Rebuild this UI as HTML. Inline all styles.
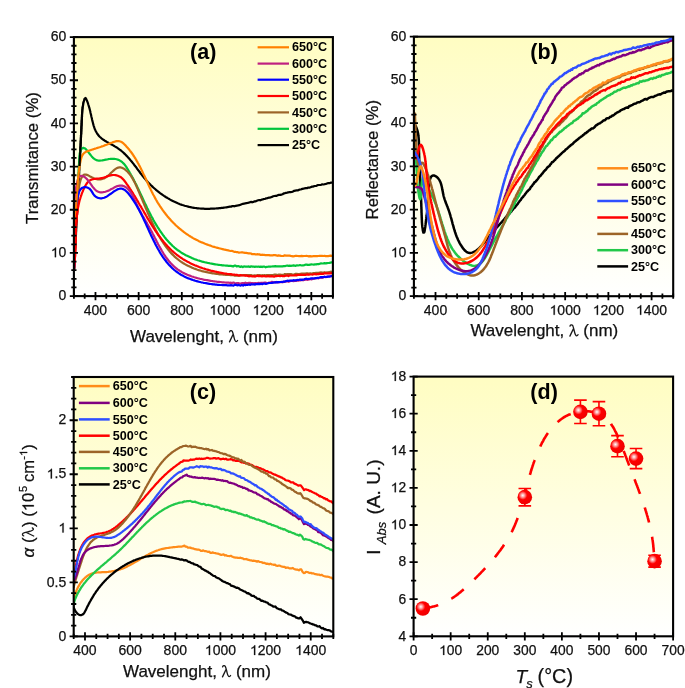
<!DOCTYPE html><html><head><meta charset="utf-8"><style>html,body{margin:0;padding:0;background:#fff;}svg{display:block;will-change:transform;}text{font-family:"Liberation Sans",sans-serif;fill:#111;stroke:#111;stroke-width:0.25px;}text[font-weight=bold]{stroke-width:0;fill:#000;}</style></head><body>
<svg width="685" height="688" viewBox="0 0 685 688">
<defs>
<linearGradient id="ga" x1="0" y1="0" x2="0" y2="1"><stop offset="0" stop-color="#FFFDC2"/><stop offset="1" stop-color="#FFFFFF"/></linearGradient>
<clipPath id="ca"><rect x="73.9" y="37.1" width="259.0" height="259.0"/></clipPath>
<linearGradient id="gb" x1="0" y1="0" x2="0" y2="1"><stop offset="0" stop-color="#FFFDC2"/><stop offset="1" stop-color="#FFFFFF"/></linearGradient>
<clipPath id="cb"><rect x="413.9" y="36.7" width="259.3" height="259.5"/></clipPath>
<linearGradient id="gc" x1="0" y1="0" x2="0" y2="1"><stop offset="0" stop-color="#FFFDC2"/><stop offset="1" stop-color="#FFFFFF"/></linearGradient>
<clipPath id="cc"><rect x="73.7" y="377.0" width="259.6" height="259.4"/></clipPath>
<linearGradient id="gd" x1="0" y1="0" x2="0" y2="1"><stop offset="0" stop-color="#FFFDC2"/><stop offset="1" stop-color="#FFFFFF"/></linearGradient>
<clipPath id="cd"><rect x="413.6" y="376.6" width="259.5" height="259.7"/></clipPath>
<radialGradient id="sph" cx="0.36" cy="0.38" r="0.6"><stop offset="0" stop-color="#FFFFFF"/><stop offset="0.22" stop-color="#FF9A9A"/><stop offset="0.5" stop-color="#FF0000"/><stop offset="1" stop-color="#F00000"/></radialGradient>
</defs>
<rect width="685" height="688" fill="#fff"/>
<rect x="73.9" y="37.1" width="259.0" height="259.0" fill="url(#ga)"/>
<path d="M74.1,269.0L74.2,267.8 74.3,266.6 74.3,265.4 74.4,264.2 74.4,263.0 74.5,261.8 74.6,260.6 74.6,259.4 74.7,258.2 74.8,257.0 74.8,255.8 74.9,254.6 75.0,253.4 75.0,252.2 75.1,251.0 75.1,249.8 75.2,248.6 75.3,247.4 75.3,246.2 75.4,245.0 75.5,243.8 75.5,242.6 75.6,241.4 75.7,240.2 75.7,239.0 75.8,237.8 75.8,236.6 75.9,235.4 76.0,234.2 76.0,233.0 76.1,231.8 76.2,230.6 76.2,229.4 76.3,228.2 76.4,227.0 76.4,225.8 76.5,224.6 76.5,223.4 76.6,222.2 76.7,221.0 76.7,219.8 76.8,218.6 76.9,217.4 76.9,216.2 77.0,215.0 77.1,213.8 77.1,212.6 77.2,211.4 77.2,210.2 77.3,209.0 77.4,207.8 77.4,206.6 77.5,205.4 77.6,204.2 77.6,203.0 77.7,201.8 77.7,200.6 77.8,199.4 77.9,198.2 77.9,196.9 78.0,195.7 78.1,194.5 78.1,193.3 78.2,192.1 78.2,190.9 78.3,189.7 78.4,188.5 78.4,187.3 78.5,186.1 78.6,184.9 78.6,183.7 78.7,182.5 78.7,181.3 78.8,180.1 78.9,178.9 78.9,177.7 79.0,176.5 79.1,175.3 79.1,174.1 79.2,172.9 79.2,171.7 79.3,170.5 79.4,169.3 79.4,168.1 79.5,166.9 79.5,165.7 79.6,164.5 79.7,163.3 79.7,162.1 79.8,160.9 79.8,159.7 79.9,158.5 80.0,157.3 80.0,156.1 80.1,154.9 80.1,153.7 80.2,152.5 80.3,151.3 80.3,150.1 80.4,148.9 80.4,147.7 80.5,146.5 80.6,145.3 80.6,144.1 80.7,142.9 80.7,141.7 80.8,140.5 80.9,139.3 80.9,138.1 81.0,136.9 81.0,135.7 81.1,134.5 81.2,133.3 81.2,132.1 81.3,130.9 81.3,129.7 81.4,128.5 81.4,127.2 81.5,126.0 81.6,124.8 81.6,123.6 81.7,122.4 81.7,121.2 81.8,120.0 81.9,118.8 81.9,117.6 82.0,116.4 82.0,115.2 82.1,114.0 82.2,112.8 82.3,111.6 82.4,110.4 82.5,109.2 82.7,108.0 82.8,106.8 83.0,105.7 83.2,104.5 83.4,103.3 83.7,102.1 84.0,100.9 84.3,99.8 84.7,98.7 85.5,98.0 86.2,99.0 86.7,100.1 87.2,101.2 87.6,102.3 88.0,103.4 88.3,104.6 88.7,105.7 89.0,106.9 89.4,108.0 89.7,109.2 90.0,110.4 90.3,111.5 90.5,112.7 90.8,113.9 91.1,115.1 91.3,116.2 91.6,117.4 91.9,118.6 92.1,119.8 92.4,120.9 92.7,122.1 93.0,123.3 93.3,124.4 93.6,125.6 94.0,126.7 94.4,127.9 94.8,129.0 95.3,130.1 95.8,131.2 96.4,132.2 97.0,133.3 97.7,134.3 98.4,135.2 99.2,136.2 100.0,137.0 100.9,137.8 101.8,138.6 102.8,139.3 103.8,140.0 104.8,140.7 105.8,141.3 106.8,141.9 107.9,142.5 108.9,143.1 110.0,143.7 111.0,144.2 112.1,144.8 113.2,145.4 114.2,146.0 115.2,146.6 116.3,147.2 117.3,147.9 118.3,148.6 119.3,149.3 120.2,150.0 121.2,150.7 122.1,151.5 123.0,152.3 123.9,153.1 124.7,153.9 125.6,154.8 126.4,155.6 127.3,156.5 128.1,157.4 128.9,158.3 129.7,159.2 130.4,160.1 131.2,161.1 132.0,162.0 132.7,162.9 133.5,163.9 134.2,164.8 134.9,165.8 135.7,166.7 136.4,167.7 137.1,168.7 137.8,169.6 138.5,170.6 139.3,171.5 140.0,172.5 140.7,173.5 141.5,174.4 142.2,175.4 143.0,176.3 143.7,177.2 144.5,178.2 145.3,179.1 146.0,180.0 146.8,180.9 147.6,181.8 148.5,182.7 149.3,183.5 150.1,184.4 151.0,185.3 151.9,186.1 152.7,186.9 153.6,187.7 154.5,188.5 155.4,189.3 156.3,190.1 157.3,190.9 158.2,191.6 159.2,192.4 160.1,193.1 161.1,193.8 162.1,194.5 163.0,195.2 164.0,195.9 165.0,196.5 166.1,197.2 167.1,197.8 168.1,198.4 169.2,199.0 170.2,199.6 171.3,200.2 172.3,200.7 173.4,201.3 174.5,201.8 175.6,202.3 176.7,202.8 177.8,203.3 178.9,203.7 180.0,204.2 181.2,204.6 182.3,205.0 183.4,205.3 184.6,205.7 185.7,206.0 186.9,206.3 188.1,206.6 189.2,206.9 190.4,207.1 191.6,207.4 192.8,207.6 194.0,207.8 195.2,208.0 196.4,208.1 197.6,208.3 198.7,208.4 199.9,208.5 201.1,208.6 202.3,208.7 203.5,208.7 204.8,208.8 206.0,208.8 207.2,208.8 208.4,208.8 209.6,208.8 210.8,208.7 212.0,208.7 213.2,208.6 214.4,208.6 215.6,208.5 216.8,208.4 218.0,208.3 219.2,208.2 220.4,208.1 221.6,207.9 222.8,207.8 224.0,207.6 225.1,207.5 226.3,207.3 227.5,207.1 228.7,206.9 229.9,206.7 231.1,206.7 232.3,206.1 233.5,206.0 234.6,206.3 235.8,205.8 237.0,205.7 238.2,205.3 239.4,205.2 240.5,204.7 241.7,204.2 242.9,203.8 244.1,203.7 245.2,203.3 246.4,203.1 247.6,202.9 248.7,202.6 249.9,202.2 251.1,201.9 252.2,202.3 253.4,201.9 254.6,201.3 255.8,201.3 256.9,200.7 258.1,200.3 259.3,200.0 260.4,200.3 261.6,199.6 262.7,199.4 263.9,199.0 265.1,198.9 266.2,198.3 267.4,198.1 268.6,197.7 269.7,197.7 270.9,197.3 272.1,196.9 273.2,196.3 274.4,196.0 275.5,195.8 276.7,195.8 277.9,195.1 279.0,194.9 280.2,194.9 281.4,194.6 282.5,194.3 283.7,193.3 284.8,193.3 286.0,192.8 287.2,192.6 288.3,192.3 289.5,192.2 290.7,192.1 291.8,192.0 293.0,191.5 294.2,190.8 295.3,190.6 296.5,190.4 297.7,190.4 298.8,189.9 300.0,189.5 301.2,189.3 302.3,188.9 303.5,188.7 304.7,188.3 305.8,188.1 307.0,188.2 308.2,187.6 309.4,187.7 310.5,187.3 311.7,186.7 312.9,186.6 314.0,186.2 315.2,186.0 316.4,185.8 317.6,185.2 318.8,185.0 319.9,185.0 321.1,184.8 322.3,184.3 323.5,184.5 324.7,184.2 325.8,184.0 327.0,183.5 328.2,183.1 329.4,183.2 330.6,182.7 331.8,182.7 332.9,182.6" stroke="#000000" stroke-width="2.2" fill="none" stroke-linejoin="round" stroke-linecap="round" clip-path="url(#ca)"/>
<path d="M74.1,269.0L74.1,267.8 74.1,266.6 74.2,265.4 74.2,264.2 74.2,262.9 74.2,261.7 74.2,260.5 74.3,259.3 74.3,258.1 74.3,256.9 74.3,255.7 74.4,254.5 74.4,253.3 74.4,252.1 74.5,250.9 74.5,249.7 74.5,248.5 74.5,247.3 74.6,246.1 74.6,244.9 74.7,243.7 74.7,242.5 74.7,241.3 74.8,240.1 74.8,238.9 74.8,237.7 74.9,236.5 74.9,235.3 75.0,234.0 75.0,232.8 75.1,231.6 75.1,230.4 75.2,229.2 75.2,228.0 75.3,226.8 75.3,225.6 75.4,224.4 75.4,223.2 75.5,222.0 75.5,220.8 75.6,219.6 75.6,218.4 75.7,217.2 75.7,216.0 75.8,214.8 75.9,213.6 75.9,212.4 76.0,211.2 76.1,210.0 76.1,208.8 76.2,207.6 76.2,206.4 76.3,205.2 76.4,204.0 76.5,202.8 76.5,201.6 76.6,200.4 76.7,199.2 76.7,198.0 76.8,196.8 76.9,195.6 77.0,194.4 77.1,193.1 77.1,191.9 77.2,190.7 77.3,189.5 77.4,188.3 77.5,187.1 77.5,185.9 77.6,184.7 77.7,183.5 77.8,182.3 77.9,181.1 78.0,179.9 78.1,178.7 78.1,177.5 78.2,176.3 78.3,175.1 78.4,173.9 78.5,172.7 78.6,171.5 78.6,170.3 78.7,169.1 78.8,167.9 78.9,166.7 78.9,165.5 79.0,164.3 79.1,163.1 79.1,161.9 79.2,160.7 79.3,159.5 79.3,158.3 79.4,157.1 79.5,155.9 79.6,154.7 79.7,153.5 80.0,152.3 80.3,151.1 80.7,150.0 81.4,149.0 82.3,148.3 83.4,147.9 84.6,148.2 85.5,148.9 86.4,149.8 87.2,150.7 88.0,151.6 88.7,152.6 89.4,153.5 90.2,154.5 90.9,155.4 91.7,156.4 92.5,157.3 93.3,158.1 94.3,158.9 95.3,159.5 96.4,160.1 97.5,160.4 98.7,160.6 99.9,160.6 101.1,160.5 102.3,160.4 103.5,160.2 104.7,159.9 105.9,159.7 107.0,159.5 108.2,159.2 109.4,159.0 110.6,158.9 111.8,158.8 113.0,158.8 114.2,158.8 115.4,159.0 116.6,159.3 117.7,159.6 118.8,160.1 119.9,160.6 120.9,161.2 121.9,161.9 122.8,162.7 123.7,163.6 124.5,164.5 125.2,165.4 125.9,166.4 126.6,167.4 127.2,168.4 127.9,169.5 128.5,170.5 129.1,171.5 129.7,172.6 130.3,173.6 130.9,174.7 131.5,175.7 132.1,176.8 132.7,177.8 133.2,178.9 133.8,180.0 134.3,181.0 134.9,182.1 135.4,183.2 136.0,184.2 136.5,185.3 137.0,186.4 137.5,187.5 138.1,188.6 138.6,189.7 139.1,190.8 139.6,191.8 140.1,192.9 140.6,194.0 141.1,195.1 141.7,196.2 142.2,197.3 142.7,198.4 143.2,199.5 143.7,200.6 144.2,201.7 144.7,202.8 145.2,203.8 145.8,204.9 146.3,206.0 146.8,207.1 147.3,208.2 147.9,209.3 148.4,210.4 148.9,211.4 149.5,212.5 150.0,213.6 150.6,214.6 151.1,215.7 151.7,216.8 152.3,217.8 152.8,218.9 153.4,220.0 154.0,221.0 154.6,222.1 155.2,223.1 155.8,224.1 156.4,225.2 157.1,226.2 157.7,227.2 158.3,228.2 159.0,229.2 159.7,230.3 160.3,231.3 161.0,232.2 161.7,233.2 162.4,234.2 163.1,235.2 163.9,236.1 164.6,237.1 165.3,238.0 166.1,239.0 166.9,239.9 167.7,240.8 168.5,241.7 169.3,242.6 170.1,243.4 171.0,244.3 171.8,245.1 172.7,246.0 173.6,246.8 174.5,247.6 175.4,248.3 176.4,249.1 177.3,249.8 178.3,250.5 179.3,251.2 180.3,251.9 181.3,252.6 182.3,253.2 183.3,253.8 184.4,254.4 185.4,255.0 186.5,255.6 187.6,256.1 188.7,256.6 189.8,257.1 190.9,257.6 192.0,258.1 193.1,258.5 194.2,259.0 195.3,259.4 196.5,259.8 197.6,260.2 198.8,260.5 199.9,260.9 201.1,261.2 202.2,261.6 203.4,261.9 204.6,262.2 205.7,262.5 206.9,262.7 208.1,263.0 209.3,263.2 210.5,263.5 211.6,263.7 212.8,263.9 214.0,264.1 215.2,264.3 216.4,264.5 217.6,264.7 218.8,264.8 220.0,265.0 221.2,265.1 222.4,265.3 223.6,265.4 224.8,265.5 226.0,265.6 227.2,265.7 228.4,265.8 229.6,265.9 230.8,265.9 232.0,266.1 233.2,266.5 234.4,265.7 235.6,265.7 236.8,266.5 238.0,266.0 239.2,266.4 240.4,266.9 241.6,266.3 242.8,267.1 244.0,266.3 245.2,266.7 246.4,266.6 247.6,266.7 248.8,266.4 250.0,266.9 251.2,266.3 252.4,266.7 253.6,266.5 254.8,266.9 256.0,266.5 257.2,266.8 258.4,266.5 259.7,266.9 260.9,266.6 262.1,267.1 263.3,266.6 264.5,266.6 265.7,267.3 266.9,266.8 268.1,266.7 269.3,266.5 270.5,266.6 271.7,266.5 272.9,266.4 274.1,266.4 275.3,266.2 276.5,266.4 277.7,266.3 278.9,266.4 280.1,266.3 281.3,266.4 282.5,266.4 283.7,266.1 284.9,266.2 286.1,265.8 287.3,265.5 288.5,265.9 289.8,265.7 291.0,265.8 292.2,265.7 293.4,265.4 294.6,265.6 295.8,265.8 297.0,265.3 298.2,265.5 299.4,265.2 300.6,265.2 301.8,265.5 303.0,265.3 304.2,265.1 305.4,264.7 306.6,264.6 307.8,264.9 309.0,264.8 310.2,264.6 311.4,264.4 312.6,264.5 313.8,264.6 315.0,264.4 316.2,264.4 317.4,264.0 318.6,264.1 319.8,263.7 321.0,263.4 322.2,263.5 323.4,263.4 324.6,263.2 325.8,263.4 327.0,263.1 328.2,263.0 329.4,262.9 330.6,262.6 331.8,262.3 333.0,262.7" stroke="#00C43A" stroke-width="2.2" fill="none" stroke-linejoin="round" stroke-linecap="round" clip-path="url(#ca)"/>
<path d="M74.1,269.1L74.2,267.9 74.2,266.6 74.3,265.4 74.3,264.2 74.4,263.0 74.4,261.8 74.5,260.6 74.5,259.4 74.6,258.2 74.6,257.0 74.6,255.8 74.7,254.6 74.7,253.4 74.8,252.2 74.8,251.0 74.8,249.8 74.9,248.6 74.9,247.4 75.0,246.2 75.0,245.0 75.0,243.8 75.1,242.6 75.1,241.4 75.1,240.2 75.2,238.9 75.2,237.7 75.3,236.5 75.3,235.3 75.4,234.1 75.4,232.9 75.4,231.7 75.5,230.5 75.5,229.3 75.6,228.1 75.6,226.9 75.7,225.7 75.7,224.5 75.8,223.3 75.9,222.1 75.9,220.9 76.0,219.7 76.1,218.5 76.1,217.3 76.2,216.1 76.3,214.9 76.3,213.7 76.4,212.5 76.5,211.3 76.6,210.1 76.7,208.9 76.8,207.7 76.9,206.5 77.0,205.3 77.1,204.1 77.2,202.9 77.3,201.7 77.4,200.5 77.6,199.3 77.7,198.1 77.8,196.9 78.0,195.7 78.1,194.5 78.2,193.3 78.4,192.1 78.5,190.9 78.7,189.7 78.8,188.5 79.0,187.3 79.2,186.1 79.4,184.9 79.6,183.7 79.9,182.6 80.2,181.4 80.5,180.2 80.9,179.1 81.4,178.0 82.0,176.9 82.6,175.9 83.5,175.1 84.5,174.6 85.7,174.5 86.9,174.9 88.0,175.3 89.1,175.9 90.1,176.5 91.2,177.0 92.3,177.6 93.3,178.1 94.5,178.6 95.6,178.9 96.8,179.2 98.0,179.4 99.2,179.4 100.4,179.3 101.6,179.2 102.7,178.8 103.9,178.4 104.9,177.9 106.0,177.2 106.9,176.5 107.9,175.8 108.8,175.0 109.7,174.2 110.6,173.3 111.4,172.5 112.3,171.7 113.2,170.9 114.1,170.1 115.0,169.3 116.0,168.6 117.1,168.0 118.2,167.6 119.4,167.4 120.6,167.4 121.7,167.7 122.8,168.1 123.9,168.7 124.9,169.4 125.8,170.2 126.7,171.0 127.6,171.8 128.4,172.7 129.2,173.6 129.9,174.6 130.7,175.5 131.3,176.5 132.0,177.5 132.6,178.6 133.2,179.6 133.8,180.7 134.3,181.8 134.9,182.8 135.4,183.9 135.9,185.0 136.4,186.1 136.9,187.2 137.4,188.3 137.9,189.4 138.3,190.5 138.8,191.6 139.3,192.7 139.7,193.9 140.2,195.0 140.7,196.1 141.2,197.2 141.6,198.3 142.1,199.4 142.6,200.5 143.0,201.6 143.5,202.7 144.0,203.8 144.4,205.0 144.9,206.1 145.4,207.2 145.8,208.3 146.3,209.4 146.8,210.5 147.3,211.6 147.7,212.7 148.2,213.8 148.7,214.9 149.2,216.0 149.7,217.1 150.2,218.2 150.7,219.3 151.2,220.4 151.7,221.5 152.2,222.6 152.7,223.7 153.2,224.8 153.7,225.9 154.3,227.0 154.8,228.0 155.4,229.1 155.9,230.2 156.5,231.2 157.0,232.3 157.6,233.4 158.2,234.4 158.8,235.5 159.4,236.5 160.0,237.6 160.6,238.6 161.2,239.6 161.8,240.7 162.5,241.7 163.2,242.7 163.8,243.7 164.5,244.7 165.2,245.7 165.9,246.6 166.6,247.6 167.4,248.6 168.1,249.5 168.9,250.4 169.6,251.4 170.4,252.3 171.2,253.2 172.1,254.1 172.9,254.9 173.8,255.8 174.6,256.6 175.5,257.4 176.4,258.2 177.4,259.0 178.3,259.7 179.3,260.5 180.2,261.2 181.2,261.9 182.2,262.5 183.2,263.2 184.3,263.8 185.3,264.4 186.4,265.0 187.4,265.5 188.5,266.1 189.6,266.6 190.7,267.1 191.8,267.6 192.9,268.0 194.0,268.5 195.2,268.9 196.3,269.3 197.4,269.7 198.6,270.1 199.7,270.4 200.9,270.7 202.1,271.1 203.2,271.4 204.4,271.7 205.6,271.9 206.7,272.2 207.9,272.4 209.1,272.7 210.3,272.9 211.5,273.1 212.7,273.3 213.9,273.5 215.1,273.7 216.2,273.8 217.4,274.0 218.6,274.1 219.8,274.3 221.0,274.4 222.2,274.5 223.4,274.6 224.6,274.7 225.8,274.8 227.0,274.9 228.2,275.0 229.4,275.0 230.6,275.2 231.9,274.9 233.1,275.1 234.3,275.6 235.5,275.4 236.7,275.6 237.9,275.4 239.1,275.6 240.3,275.4 241.5,275.2 242.7,275.0 243.9,275.2 245.1,275.1 246.3,275.1 247.5,275.2 248.7,275.2 249.9,275.1 251.1,275.1 252.3,275.7 253.5,275.6 254.7,275.3 255.9,275.6 257.2,275.2 258.4,275.1 259.6,275.0 260.8,275.7 262.0,275.2 263.2,275.3 264.4,275.2 265.6,275.3 266.8,275.1 268.0,275.1 269.2,275.0 270.4,275.2 271.6,275.1 272.8,275.0 274.0,274.7 275.2,274.6 276.4,274.7 277.6,275.0 278.8,274.6 280.0,274.6 281.2,274.9 282.4,274.9 283.7,274.8 284.9,274.0 286.1,274.4 287.3,274.1 288.5,274.1 289.7,274.1 290.9,274.2 292.1,274.4 293.3,274.5 294.5,274.3 295.7,273.8 296.9,273.9 298.1,274.0 299.3,274.1 300.5,273.8 301.7,273.7 302.9,273.7 304.1,273.6 305.3,273.5 306.5,273.3 307.7,273.4 308.9,273.7 310.1,273.3 311.3,273.6 312.5,273.4 313.7,273.0 314.9,273.1 316.1,272.9 317.3,272.9 318.6,272.8 319.8,272.5 321.0,272.4 322.2,272.5 323.4,272.5 324.6,272.2 325.8,272.5 327.0,272.4 328.2,272.4 329.4,272.0 330.6,271.7 331.8,271.9 333.0,271.6" stroke="#9C6428" stroke-width="2.2" fill="none" stroke-linejoin="round" stroke-linecap="round" clip-path="url(#ca)"/>
<path d="M73.9,268.9L74.1,267.7 74.2,266.5 74.3,265.3 74.5,264.1 74.6,262.9 74.7,261.7 74.8,260.5 74.8,259.3 74.9,258.1 75.0,256.9 75.1,255.7 75.1,254.5 75.2,253.3 75.2,252.1 75.2,250.9 75.3,249.7 75.3,248.5 75.4,247.3 75.4,246.1 75.4,244.9 75.4,243.7 75.5,242.5 75.5,241.3 75.5,240.1 75.6,238.9 75.6,237.6 75.6,236.4 75.7,235.2 75.7,234.0 75.7,232.8 75.8,231.6 75.8,230.4 75.9,229.2 75.9,228.0 76.0,226.8 76.0,225.6 76.1,224.4 76.2,223.2 76.3,222.0 76.4,220.8 76.5,219.6 76.6,218.4 76.7,217.2 76.8,216.0 77.0,214.8 77.1,213.6 77.3,212.4 77.4,211.2 77.6,210.0 77.8,208.9 78.0,207.7 78.3,206.5 78.5,205.3 78.8,204.1 79.0,203.0 79.3,201.8 79.6,200.6 79.9,199.5 80.3,198.3 80.6,197.2 81.0,196.0 81.4,194.9 81.8,193.7 82.2,192.6 82.7,191.5 83.1,190.4 83.6,189.3 84.1,188.2 84.7,187.1 85.2,186.0 85.8,185.0 86.4,184.0 87.1,183.0 87.9,182.1 88.8,181.2 89.7,180.5 90.8,179.9 91.9,179.5 93.1,179.2 94.3,179.0 95.4,178.8 96.6,178.7 97.8,178.6 99.0,178.5 100.2,178.3 101.4,178.1 102.6,177.9 103.8,177.6 104.9,177.2 106.1,176.8 107.2,176.4 108.3,176.0 109.5,175.7 110.7,175.4 111.8,175.2 113.0,175.0 114.2,175.0 115.4,175.1 116.6,175.4 117.8,175.7 118.9,176.2 120.0,176.7 121.0,177.3 121.9,178.1 122.8,178.9 123.6,179.8 124.4,180.8 125.1,181.7 125.8,182.7 126.5,183.7 127.2,184.6 127.9,185.6 128.6,186.6 129.3,187.6 129.9,188.6 130.6,189.6 131.2,190.6 131.9,191.6 132.5,192.7 133.2,193.7 133.8,194.7 134.4,195.7 135.1,196.8 135.7,197.8 136.3,198.8 136.9,199.9 137.5,200.9 138.1,201.9 138.7,203.0 139.3,204.0 139.9,205.1 140.6,206.1 141.2,207.1 141.8,208.2 142.4,209.2 143.0,210.3 143.6,211.3 144.2,212.4 144.8,213.4 145.4,214.4 146.0,215.5 146.6,216.5 147.2,217.6 147.8,218.6 148.4,219.6 149.1,220.7 149.7,221.7 150.3,222.7 150.9,223.7 151.6,224.8 152.2,225.8 152.9,226.8 153.5,227.8 154.2,228.8 154.8,229.8 155.5,230.8 156.2,231.8 156.9,232.8 157.5,233.8 158.2,234.8 158.9,235.8 159.7,236.7 160.4,237.7 161.1,238.7 161.9,239.6 162.6,240.5 163.4,241.5 164.1,242.4 164.9,243.3 165.7,244.2 166.5,245.1 167.3,246.0 168.1,246.9 169.0,247.8 169.8,248.6 170.7,249.5 171.5,250.3 172.4,251.1 173.3,251.9 174.2,252.7 175.2,253.5 176.1,254.2 177.0,255.0 178.0,255.7 179.0,256.4 180.0,257.1 181.0,257.8 182.0,258.4 183.0,259.1 184.0,259.7 185.0,260.3 186.1,260.9 187.1,261.5 188.2,262.1 189.3,262.6 190.4,263.2 191.4,263.7 192.5,264.2 193.6,264.7 194.7,265.2 195.8,265.6 197.0,266.1 198.1,266.5 199.2,267.0 200.3,267.4 201.5,267.8 202.6,268.2 203.8,268.5 204.9,268.9 206.1,269.3 207.2,269.6 208.4,269.9 209.5,270.2 210.7,270.6 211.9,270.8 213.0,271.1 214.2,271.4 215.4,271.7 216.6,271.9 217.7,272.2 218.9,272.4 220.1,272.7 221.3,272.9 222.5,273.1 223.7,273.3 224.8,273.5 226.0,273.7 227.2,273.9 228.4,274.0 229.6,274.2 230.8,274.0 232.0,274.6 233.2,274.6 234.4,274.5 235.6,275.0 236.8,274.7 238.0,275.2 239.2,275.6 240.4,275.1 241.6,275.5 242.8,275.5 244.0,275.3 245.2,275.8 246.4,275.4 247.6,275.9 248.8,276.3 250.0,276.2 251.2,276.2 252.4,276.5 253.6,276.1 254.8,276.6 256.0,276.3 257.2,275.7 258.4,276.2 259.6,276.1 260.8,276.2 262.0,276.4 263.2,276.2 264.4,276.2 265.6,276.4 266.8,276.5 268.0,275.9 269.2,276.4 270.5,276.5 271.7,276.1 272.9,276.5 274.1,276.6 275.3,276.2 276.5,276.2 277.7,276.0 278.9,276.0 280.1,276.2 281.3,275.8 282.5,276.1 283.7,276.1 284.9,276.1 286.1,275.6 287.3,275.5 288.5,276.1 289.7,275.3 290.9,275.5 292.1,275.5 293.3,275.5 294.5,275.4 295.7,275.1 296.9,275.3 298.1,274.9 299.3,275.0 300.5,274.7 301.7,274.8 302.9,274.8 304.1,274.8 305.3,274.8 306.5,274.7 307.7,274.4 308.9,274.8 310.1,274.5 311.3,274.5 312.5,274.6 313.7,274.3 314.9,274.0 316.1,274.4 317.3,274.2 318.6,274.2 319.8,273.6 321.0,273.9 322.2,273.9 323.4,273.8 324.6,273.2 325.8,273.3 327.0,273.3 328.2,273.4 329.4,273.4 330.6,273.3 331.8,273.0 333.0,273.3" stroke="#FF0000" stroke-width="2.2" fill="none" stroke-linejoin="round" stroke-linecap="round" clip-path="url(#ca)"/>
<path d="M74.0,269.0L74.1,267.8 74.2,266.6 74.4,265.4 74.4,264.2 74.5,263.0 74.6,261.8 74.7,260.6 74.7,259.4 74.8,258.2 74.8,257.0 74.8,255.8 74.9,254.6 74.9,253.4 74.9,252.2 74.9,251.0 74.9,249.8 74.9,248.5 74.9,247.3 74.9,246.1 74.8,244.9 74.8,243.7 74.8,242.5 74.7,241.3 74.7,240.1 74.7,238.9 74.6,237.7 74.6,236.5 74.6,235.3 74.5,234.1 74.5,232.9 74.4,231.7 74.4,230.5 74.3,229.3 74.3,228.1 74.3,226.9 74.2,225.7 74.2,224.5 74.2,223.3 74.1,222.1 74.1,220.9 74.1,219.7 74.1,218.5 74.0,217.3 74.0,216.1 74.0,214.9 74.0,213.7 74.0,212.5 74.0,211.2 74.1,210.0 74.1,208.8 74.1,207.6 74.2,206.4 74.2,205.2 74.3,204.0 74.3,202.8 74.4,201.6 74.5,200.4 74.6,199.2 74.7,198.0 74.8,196.8 74.9,195.6 75.0,194.4 75.2,193.2 75.4,192.0 75.5,190.9 75.7,189.7 75.9,188.5 76.1,187.3 76.3,186.1 76.6,184.9 76.8,183.8 77.1,182.6 77.4,181.4 77.7,180.2 78.0,179.1 78.5,178.0 79.1,177.0 80.0,176.2 81.1,175.8 82.3,176.0 83.5,176.4 84.5,177.0 85.5,177.7 86.3,178.5 87.2,179.4 87.9,180.3 88.7,181.3 89.4,182.2 90.1,183.2 90.8,184.2 91.5,185.2 92.2,186.2 92.9,187.1 93.7,188.1 94.5,189.0 95.3,189.8 96.2,190.6 97.2,191.2 98.3,191.7 99.5,192.1 100.7,192.3 101.9,192.3 103.1,192.2 104.3,192.0 105.4,191.7 106.6,191.3 107.7,190.9 108.8,190.4 109.9,189.9 110.9,189.3 112.0,188.8 113.1,188.2 114.1,187.6 115.2,187.1 116.3,186.6 117.4,186.1 118.6,185.8 119.7,185.6 120.9,185.5 122.1,185.6 123.3,186.0 124.4,186.4 125.4,187.0 126.4,187.7 127.4,188.5 128.2,189.3 129.0,190.2 129.8,191.1 130.5,192.1 131.2,193.1 131.8,194.1 132.4,195.2 132.9,196.3 133.5,197.3 134.0,198.4 134.5,199.5 135.0,200.6 135.5,201.7 136.0,202.8 136.5,203.9 137.0,205.0 137.5,206.1 138.0,207.2 138.6,208.2 139.1,209.3 139.6,210.4 140.2,211.4 140.8,212.5 141.4,213.6 142.0,214.6 142.5,215.7 143.1,216.7 143.8,217.7 144.4,218.8 145.0,219.8 145.6,220.9 146.2,221.9 146.8,222.9 147.4,224.0 148.0,225.0 148.6,226.1 149.2,227.1 149.8,228.2 150.4,229.2 150.9,230.3 151.5,231.3 152.1,232.4 152.6,233.5 153.2,234.5 153.7,235.6 154.3,236.7 154.8,237.8 155.4,238.8 155.9,239.9 156.5,241.0 157.0,242.0 157.6,243.1 158.1,244.2 158.7,245.2 159.3,246.3 159.9,247.3 160.5,248.4 161.1,249.4 161.7,250.5 162.3,251.5 162.9,252.5 163.5,253.5 164.2,254.6 164.9,255.6 165.5,256.6 166.2,257.5 166.9,258.5 167.7,259.5 168.4,260.4 169.2,261.4 170.0,262.3 170.8,263.2 171.6,264.0 172.4,264.9 173.3,265.7 174.2,266.6 175.1,267.4 176.0,268.1 177.0,268.9 177.9,269.6 178.9,270.2 179.9,270.9 181.0,271.5 182.0,272.1 183.1,272.7 184.1,273.2 185.2,273.8 186.3,274.3 187.4,274.8 188.5,275.2 189.6,275.6 190.8,276.1 191.9,276.5 193.1,276.8 194.2,277.2 195.4,277.5 196.5,277.9 197.7,278.2 198.8,278.5 200.0,278.8 201.2,279.0 202.4,279.3 203.5,279.6 204.7,279.8 205.9,280.0 207.1,280.2 208.3,280.4 209.5,280.6 210.6,280.8 211.8,281.0 213.0,281.2 214.2,281.3 215.4,281.5 216.6,281.7 217.8,281.8 219.0,281.9 220.2,282.0 221.4,282.2 222.6,282.3 223.8,282.4 225.0,282.5 226.2,282.6 227.4,282.6 228.6,282.7 229.8,282.8 231.0,282.7 232.2,283.0 233.4,282.5 234.6,283.1 235.8,283.4 237.0,283.2 238.2,283.0 239.4,283.6 240.6,283.5 241.8,283.2 243.0,283.0 244.2,283.6 245.4,282.6 246.6,283.3 247.8,283.1 249.0,282.9 250.3,282.9 251.5,283.2 252.7,283.1 253.9,283.4 255.1,283.0 256.3,283.4 257.5,283.0 258.7,282.8 259.9,283.0 261.1,282.8 262.3,282.9 263.5,282.8 264.7,282.6 265.9,282.7 267.1,283.1 268.3,282.9 269.5,282.5 270.7,282.2 271.9,281.8 273.1,282.4 274.3,282.2 275.5,282.4 276.7,281.9 277.9,282.5 279.1,282.1 280.3,282.1 281.5,281.9 282.7,282.3 283.9,281.7 285.1,281.8 286.3,281.5 287.5,281.4 288.7,281.8 289.9,281.3 291.1,280.8 292.3,281.0 293.5,281.2 294.7,281.0 295.9,280.8 297.1,280.6 298.3,280.7 299.5,280.1 300.7,280.3 301.9,279.9 303.1,280.3 304.3,279.8 305.5,279.6 306.7,279.6 307.9,279.8 309.1,279.5 310.3,279.0 311.5,279.4 312.7,278.8 313.9,278.6 315.0,278.6 316.2,278.0 317.4,278.1 318.6,278.3 319.8,277.6 321.0,277.7 322.2,277.8 323.4,277.2 324.6,276.7 325.8,277.2 327.0,276.8 328.1,276.5 329.3,276.5 330.5,276.4 331.7,275.8 332.9,275.7" stroke="#BF2080" stroke-width="2.2" fill="none" stroke-linejoin="round" stroke-linecap="round" clip-path="url(#ca)"/>
<path d="M74.1,269.0L74.2,267.8 74.2,266.6 74.3,265.4 74.4,264.2 74.4,263.0 74.5,261.8 74.5,260.6 74.6,259.4 74.6,258.2 74.6,257.0 74.6,255.8 74.7,254.6 74.7,253.4 74.7,252.2 74.7,251.0 74.7,249.8 74.7,248.6 74.7,247.4 74.7,246.2 74.7,245.0 74.7,243.8 74.7,242.6 74.7,241.4 74.7,240.2 74.7,239.0 74.7,237.7 74.7,236.5 74.7,235.3 74.7,234.1 74.7,232.9 74.7,231.7 74.7,230.5 74.8,229.3 74.8,228.1 74.8,226.9 74.8,225.7 74.9,224.5 74.9,223.3 75.0,222.1 75.0,220.9 75.1,219.7 75.1,218.5 75.2,217.3 75.3,216.1 75.4,214.9 75.5,213.7 75.6,212.5 75.7,211.3 75.8,210.1 75.9,208.9 76.1,207.7 76.2,206.5 76.4,205.3 76.5,204.1 76.7,202.9 76.9,201.7 77.1,200.6 77.3,199.4 77.5,198.2 77.7,197.0 78.0,195.8 78.2,194.7 78.6,193.5 79.0,192.4 79.4,191.2 80.0,190.2 80.7,189.2 81.5,188.3 82.5,187.7 83.7,187.3 84.9,187.1 86.1,187.2 87.2,187.5 88.3,188.0 89.4,188.6 90.2,189.4 91.0,190.3 91.7,191.4 92.3,192.4 92.9,193.4 93.5,194.4 94.3,195.4 95.1,196.2 96.1,197.0 97.2,197.5 98.3,198.0 99.5,198.2 100.7,198.3 101.9,198.3 103.0,198.0 104.2,197.7 105.3,197.2 106.4,196.7 107.4,196.1 108.4,195.4 109.4,194.7 110.4,194.0 111.4,193.3 112.4,192.6 113.3,191.9 114.3,191.2 115.3,190.6 116.4,190.0 117.4,189.4 118.5,189.0 119.7,188.7 120.9,188.6 122.1,188.7 123.2,189.1 124.3,189.7 125.3,190.4 126.2,191.2 127.0,192.0 127.9,192.9 128.6,193.8 129.4,194.8 130.1,195.7 130.8,196.7 131.5,197.7 132.2,198.7 132.8,199.7 133.5,200.7 134.2,201.7 134.8,202.7 135.5,203.7 136.1,204.8 136.7,205.8 137.3,206.8 137.9,207.9 138.5,208.9 139.1,210.0 139.6,211.0 140.2,212.1 140.8,213.2 141.3,214.2 141.8,215.3 142.4,216.4 142.9,217.5 143.4,218.6 143.9,219.7 144.4,220.7 144.9,221.8 145.4,222.9 146.0,224.0 146.4,225.1 146.9,226.2 147.4,227.3 147.9,228.4 148.4,229.5 148.9,230.6 149.4,231.7 149.9,232.8 150.4,233.9 150.9,235.0 151.4,236.1 152.0,237.2 152.5,238.2 153.0,239.3 153.5,240.4 154.1,241.5 154.6,242.6 155.1,243.6 155.7,244.7 156.2,245.8 156.8,246.8 157.4,247.9 158.0,249.0 158.6,250.0 159.2,251.0 159.8,252.1 160.4,253.1 161.0,254.1 161.7,255.1 162.3,256.2 163.0,257.2 163.7,258.1 164.4,259.1 165.1,260.1 165.9,261.0 166.6,262.0 167.4,262.9 168.1,263.8 168.9,264.7 169.8,265.6 170.6,266.5 171.4,267.3 172.3,268.2 173.2,269.0 174.1,269.8 175.0,270.5 176.0,271.3 176.9,272.0 177.9,272.7 178.9,273.4 179.9,274.0 181.0,274.7 182.0,275.3 183.1,275.8 184.1,276.4 185.2,276.9 186.3,277.4 187.4,277.9 188.5,278.4 189.6,278.8 190.8,279.2 191.9,279.6 193.0,280.0 194.2,280.4 195.3,280.8 196.5,281.1 197.6,281.4 198.8,281.7 200.0,282.0 201.2,282.3 202.3,282.5 203.5,282.8 204.7,283.0 205.9,283.2 207.1,283.4 208.2,283.6 209.4,283.8 210.6,284.0 211.8,284.1 213.0,284.3 214.2,284.4 215.4,284.6 216.6,284.7 217.8,284.8 219.0,284.9 220.2,285.0 221.4,285.0 222.6,285.1 223.8,285.2 225.0,285.2 226.2,285.2 227.4,285.3 228.6,285.3 229.8,285.3 231.0,285.2 232.2,285.3 233.4,285.7 234.6,284.8 235.8,284.7 237.1,285.4 238.3,284.9 239.5,285.2 240.7,285.6 241.9,284.9 243.1,285.6 244.3,284.7 245.5,285.1 246.7,284.8 247.9,284.8 249.1,284.5 250.3,284.9 251.5,284.2 252.7,284.5 253.9,284.2 255.1,284.6 256.3,284.0 257.5,284.2 258.7,283.9 259.9,284.1 261.1,283.7 262.3,284.2 263.5,283.6 264.7,283.5 265.9,284.0 267.1,283.5 268.3,283.2 269.5,283.0 270.7,283.0 271.9,282.8 273.1,282.6 274.3,282.5 275.5,282.2 276.7,282.4 277.9,282.1 279.1,282.1 280.3,282.0 281.4,282.0 282.6,281.9 283.8,281.5 285.0,281.6 286.2,281.1 287.4,280.7 288.6,280.9 289.8,280.7 291.0,280.7 292.2,280.6 293.4,280.2 294.6,280.3 295.8,280.4 297.0,279.9 298.2,280.0 299.4,279.7 300.6,279.6 301.8,279.9 303.0,279.5 304.2,279.3 305.4,278.9 306.6,278.7 307.8,279.0 309.0,278.8 310.2,278.6 311.4,278.3 312.5,278.4 313.7,278.5 314.9,278.2 316.1,278.2 317.3,277.8 318.5,277.8 319.7,277.5 320.9,277.1 322.1,277.2 323.3,277.1 324.5,276.9 325.7,277.0 326.9,276.8 328.1,276.6 329.3,276.6 330.5,276.3 331.7,276.0 332.9,276.5" stroke="#0000FF" stroke-width="2.2" fill="none" stroke-linejoin="round" stroke-linecap="round" clip-path="url(#ca)"/>
<path d="M74.1,269.0L74.1,267.8 74.1,266.6 74.1,265.4 74.1,264.2 74.1,263.0 74.1,261.8 74.1,260.6 74.1,259.4 74.1,258.1 74.1,256.9 74.2,255.7 74.2,254.5 74.2,253.3 74.2,252.1 74.2,250.9 74.3,249.7 74.3,248.5 74.3,247.3 74.3,246.1 74.4,244.9 74.4,243.7 74.4,242.5 74.5,241.3 74.5,240.1 74.6,238.8 74.6,237.6 74.6,236.4 74.7,235.2 74.7,234.0 74.8,232.8 74.8,231.6 74.9,230.4 74.9,229.2 75.0,228.0 75.0,226.8 75.1,225.6 75.1,224.4 75.2,223.2 75.3,222.0 75.3,220.8 75.4,219.6 75.4,218.4 75.5,217.2 75.6,215.9 75.6,214.7 75.7,213.5 75.8,212.3 75.9,211.1 75.9,209.9 76.0,208.7 76.1,207.5 76.1,206.3 76.2,205.1 76.3,203.9 76.4,202.7 76.4,201.5 76.5,200.3 76.6,199.1 76.7,197.9 76.8,196.7 76.8,195.5 76.9,194.3 77.0,193.1 77.1,191.9 77.2,190.7 77.3,189.5 77.4,188.3 77.4,187.0 77.5,185.8 77.6,184.6 77.7,183.4 77.8,182.2 77.9,181.0 78.0,179.8 78.1,178.6 78.2,177.4 78.3,176.2 78.5,175.0 78.6,173.8 78.7,172.6 78.9,171.4 79.0,170.2 79.2,169.0 79.3,167.8 79.5,166.7 79.7,165.5 79.9,164.3 80.1,163.1 80.4,161.9 80.6,160.7 80.9,159.5 81.2,158.4 81.5,157.2 82.0,156.1 82.5,155.0 83.2,154.0 84.0,153.2 85.0,152.4 86.1,151.8 87.1,151.3 88.3,150.9 89.4,150.5 90.6,150.1 91.7,149.7 92.9,149.4 94.0,149.0 95.2,148.6 96.3,148.3 97.5,147.9 98.6,147.5 99.7,147.2 100.9,146.8 102.0,146.4 103.2,146.0 104.3,145.6 105.4,145.1 106.6,144.7 107.7,144.3 108.8,143.8 109.9,143.4 111.0,142.9 112.2,142.5 113.3,142.1 114.5,141.7 115.6,141.4 116.8,141.2 118.0,141.1 119.2,141.2 120.4,141.5 121.5,142.0 122.5,142.7 123.4,143.4 124.3,144.2 125.2,145.1 126.0,146.0 126.8,146.9 127.6,147.8 128.4,148.7 129.2,149.6 129.9,150.6 130.6,151.5 131.4,152.5 132.1,153.5 132.8,154.5 133.4,155.5 134.1,156.5 134.7,157.5 135.4,158.5 136.0,159.5 136.6,160.6 137.2,161.6 137.8,162.7 138.4,163.7 138.9,164.8 139.5,165.9 140.1,167.0 140.6,168.0 141.1,169.1 141.7,170.2 142.2,171.3 142.7,172.4 143.2,173.5 143.7,174.5 144.3,175.6 144.8,176.7 145.3,177.8 145.8,178.9 146.3,180.0 146.8,181.1 147.3,182.2 147.8,183.3 148.3,184.4 148.8,185.5 149.3,186.6 149.8,187.7 150.4,188.8 150.9,189.9 151.4,190.9 151.9,192.0 152.5,193.1 153.0,194.2 153.6,195.3 154.2,196.3 154.7,197.4 155.3,198.4 155.9,199.5 156.5,200.5 157.1,201.6 157.7,202.6 158.4,203.6 159.0,204.7 159.7,205.7 160.3,206.7 161.0,207.7 161.7,208.7 162.4,209.7 163.1,210.6 163.8,211.6 164.5,212.6 165.3,213.5 166.0,214.5 166.8,215.4 167.5,216.4 168.3,217.3 169.1,218.2 169.9,219.1 170.7,220.0 171.5,220.9 172.3,221.8 173.2,222.6 174.0,223.5 174.9,224.3 175.7,225.2 176.6,226.0 177.5,226.8 178.4,227.6 179.3,228.4 180.3,229.2 181.2,229.9 182.1,230.7 183.1,231.4 184.0,232.2 185.0,232.9 186.0,233.6 187.0,234.3 188.0,234.9 189.0,235.6 190.0,236.2 191.1,236.9 192.1,237.5 193.1,238.1 194.2,238.7 195.3,239.2 196.3,239.8 197.4,240.3 198.5,240.9 199.6,241.4 200.7,241.9 201.8,242.4 202.9,242.8 204.0,243.3 205.1,243.8 206.3,244.2 207.4,244.6 208.5,245.0 209.7,245.4 210.8,245.8 211.9,246.2 213.1,246.6 214.2,246.9 215.4,247.3 216.6,247.6 217.7,247.9 218.9,248.2 220.1,248.5 221.2,248.8 222.4,249.1 223.6,249.4 224.7,249.7 225.9,249.9 227.1,250.2 228.3,250.4 229.5,250.7 230.7,251.0 231.8,250.9 233.0,251.2 234.2,251.9 235.4,251.8 236.6,252.2 237.8,252.2 239.0,252.6 240.2,252.5 241.4,252.4 242.6,252.4 243.8,252.7 245.0,252.8 246.2,252.9 247.4,253.1 248.6,253.3 249.8,253.3 251.0,253.5 252.2,254.2 253.4,254.2 254.6,254.1 255.8,254.5 257.0,254.2 258.2,254.3 259.4,254.3 260.6,255.0 261.8,254.7 263.0,254.9 264.2,254.9 265.4,255.1 266.6,255.0 267.8,255.2 269.0,255.1 270.2,255.4 271.4,255.4 272.6,255.4 273.8,255.2 275.0,255.2 276.2,255.4 277.4,255.8 278.6,255.4 279.8,255.6 281.1,255.9 282.3,256.0 283.5,256.0 284.7,255.3 285.9,255.7 287.1,255.5 288.3,255.6 289.5,255.6 290.7,255.9 291.9,256.1 293.1,256.3 294.3,256.2 295.5,255.8 296.7,255.9 297.9,256.0 299.1,256.2 300.4,256.1 301.6,255.9 302.8,256.1 304.0,256.0 305.2,256.0 306.4,255.9 307.6,256.0 308.8,256.4 310.0,256.1 311.2,256.4 312.4,256.3 313.6,256.0 314.8,256.2 316.0,256.0 317.2,256.1 318.5,256.0 319.7,255.8 320.9,255.8 322.1,255.9 323.3,256.0 324.5,255.8 325.7,256.1 326.9,256.1 328.1,256.2 329.3,255.8 330.5,255.6 331.7,255.9 332.9,255.7" stroke="#FF8000" stroke-width="2.2" fill="none" stroke-linejoin="round" stroke-linecap="round" clip-path="url(#ca)"/>
<clipPath id="ra"><rect x="73.9" y="200" width="5.2" height="96"/></clipPath><clipPath id="ka"><rect x="73.9" y="90" width="9.6" height="76"/></clipPath>
<path d="M74.1,269.0L74.2,267.8 74.3,266.6 74.3,265.4 74.4,264.2 74.4,263.0 74.5,261.8 74.6,260.6 74.6,259.4 74.7,258.2 74.8,257.0 74.8,255.8 74.9,254.6 75.0,253.4 75.0,252.2 75.1,251.0 75.1,249.8 75.2,248.6 75.3,247.4 75.3,246.2 75.4,245.0 75.5,243.8 75.5,242.6 75.6,241.4 75.7,240.2 75.7,239.0 75.8,237.8 75.8,236.6 75.9,235.4 76.0,234.2 76.0,233.0 76.1,231.8 76.2,230.6 76.2,229.4 76.3,228.2 76.4,227.0 76.4,225.8 76.5,224.6 76.5,223.4 76.6,222.2 76.7,221.0 76.7,219.8 76.8,218.6 76.9,217.4 76.9,216.2 77.0,215.0 77.1,213.8 77.1,212.6 77.2,211.4 77.2,210.2 77.3,209.0 77.4,207.8 77.4,206.6 77.5,205.4 77.6,204.2 77.6,203.0 77.7,201.8 77.7,200.6 77.8,199.4 77.9,198.2 77.9,196.9 78.0,195.7 78.1,194.5 78.1,193.3 78.2,192.1 78.2,190.9 78.3,189.7 78.4,188.5 78.4,187.3 78.5,186.1 78.6,184.9 78.6,183.7 78.7,182.5 78.7,181.3 78.8,180.1 78.9,178.9 78.9,177.7 79.0,176.5 79.1,175.3 79.1,174.1 79.2,172.9 79.2,171.7 79.3,170.5 79.4,169.3 79.4,168.1 79.5,166.9 79.5,165.7 79.6,164.5 79.7,163.3 79.7,162.1 79.8,160.9 79.8,159.7 79.9,158.5 80.0,157.3 80.0,156.1 80.1,154.9 80.1,153.7 80.2,152.5 80.3,151.3 80.3,150.1 80.4,148.9 80.4,147.7 80.5,146.5 80.6,145.3 80.6,144.1 80.7,142.9 80.7,141.7 80.8,140.5 80.9,139.3 80.9,138.1 81.0,136.9 81.0,135.7 81.1,134.5 81.2,133.3 81.2,132.1 81.3,130.9 81.3,129.7 81.4,128.5 81.4,127.2 81.5,126.0 81.6,124.8 81.6,123.6 81.7,122.4 81.7,121.2 81.8,120.0 81.9,118.8 81.9,117.6 82.0,116.4 82.0,115.2 82.1,114.0 82.2,112.8 82.3,111.6 82.4,110.4 82.5,109.2 82.7,108.0 82.8,106.8 83.0,105.7 83.2,104.5 83.4,103.3 83.7,102.1 84.0,100.9 84.3,99.8 84.7,98.7 85.5,98.0 86.2,99.0 86.7,100.1 87.2,101.2 87.6,102.3 88.0,103.4 88.3,104.6 88.7,105.7 89.0,106.9 89.4,108.0 89.7,109.2 90.0,110.4 90.3,111.5 90.5,112.7 90.8,113.9 91.1,115.1 91.3,116.2 91.6,117.4 91.9,118.6 92.1,119.8 92.4,120.9 92.7,122.1 93.0,123.3 93.3,124.4 93.6,125.6 94.0,126.7 94.4,127.9 94.8,129.0 95.3,130.1 95.8,131.2 96.4,132.2 97.0,133.3 97.7,134.3 98.4,135.2 99.2,136.2 100.0,137.0 100.9,137.8 101.8,138.6 102.8,139.3 103.8,140.0 104.8,140.7 105.8,141.3 106.8,141.9 107.9,142.5 108.9,143.1 110.0,143.7 111.0,144.2 112.1,144.8 113.2,145.4 114.2,146.0 115.2,146.6 116.3,147.2 117.3,147.9 118.3,148.6 119.3,149.3 120.2,150.0 121.2,150.7 122.1,151.5 123.0,152.3 123.9,153.1 124.7,153.9 125.6,154.8 126.4,155.6 127.3,156.5 128.1,157.4 128.9,158.3 129.7,159.2 130.4,160.1 131.2,161.1 132.0,162.0 132.7,162.9 133.5,163.9 134.2,164.8 134.9,165.8 135.7,166.7 136.4,167.7 137.1,168.7 137.8,169.6 138.5,170.6 139.3,171.5 140.0,172.5 140.7,173.5 141.5,174.4 142.2,175.4 143.0,176.3 143.7,177.2 144.5,178.2 145.3,179.1 146.0,180.0 146.8,180.9 147.6,181.8 148.5,182.7 149.3,183.5 150.1,184.4 151.0,185.3 151.9,186.1 152.7,186.9 153.6,187.7 154.5,188.5 155.4,189.3 156.3,190.1 157.3,190.9 158.2,191.6 159.2,192.4 160.1,193.1 161.1,193.8 162.1,194.5 163.0,195.2 164.0,195.9 165.0,196.5 166.1,197.2 167.1,197.8 168.1,198.4 169.2,199.0 170.2,199.6 171.3,200.2 172.3,200.7 173.4,201.3 174.5,201.8 175.6,202.3 176.7,202.8 177.8,203.3 178.9,203.7 180.0,204.2 181.2,204.6 182.3,205.0 183.4,205.3 184.6,205.7 185.7,206.0 186.9,206.3 188.1,206.6 189.2,206.9 190.4,207.1 191.6,207.4 192.8,207.6 194.0,207.8 195.2,208.0 196.4,208.1 197.6,208.3 198.7,208.4 199.9,208.5 201.1,208.6 202.3,208.7 203.5,208.7 204.8,208.8 206.0,208.8 207.2,208.8 208.4,208.8 209.6,208.8 210.8,208.7 212.0,208.7 213.2,208.6 214.4,208.6 215.6,208.5 216.8,208.4 218.0,208.3 219.2,208.2 220.4,208.1 221.6,207.9 222.8,207.8 224.0,207.6 225.1,207.5 226.3,207.3 227.5,207.1 228.7,206.9 229.9,206.7 231.1,206.7 232.3,206.1 233.5,206.0 234.6,206.3 235.8,205.8 237.0,205.7 238.2,205.3 239.4,205.2 240.5,204.7 241.7,204.2 242.9,203.8 244.1,203.7 245.2,203.3 246.4,203.1 247.6,202.9 248.7,202.6 249.9,202.2 251.1,201.9 252.2,202.3 253.4,201.9 254.6,201.3 255.8,201.3 256.9,200.7 258.1,200.3 259.3,200.0 260.4,200.3 261.6,199.6 262.7,199.4 263.9,199.0 265.1,198.9 266.2,198.3 267.4,198.1 268.6,197.7 269.7,197.7 270.9,197.3 272.1,196.9 273.2,196.3 274.4,196.0 275.5,195.8 276.7,195.8 277.9,195.1 279.0,194.9 280.2,194.9 281.4,194.6 282.5,194.3 283.7,193.3 284.8,193.3 286.0,192.8 287.2,192.6 288.3,192.3 289.5,192.2 290.7,192.1 291.8,192.0 293.0,191.5 294.2,190.8 295.3,190.6 296.5,190.4 297.7,190.4 298.8,189.9 300.0,189.5 301.2,189.3 302.3,188.9 303.5,188.7 304.7,188.3 305.8,188.1 307.0,188.2 308.2,187.6 309.4,187.7 310.5,187.3 311.7,186.7 312.9,186.6 314.0,186.2 315.2,186.0 316.4,185.8 317.6,185.2 318.8,185.0 319.9,185.0 321.1,184.8 322.3,184.3 323.5,184.5 324.7,184.2 325.8,184.0 327.0,183.5 328.2,183.1 329.4,183.2 330.6,182.7 331.8,182.7 332.9,182.6" stroke="#000000" stroke-width="2.2" fill="none" stroke-linejoin="round" stroke-linecap="round" clip-path="url(#ka)"/>
<path d="M73.9,268.9L74.1,267.7 74.2,266.5 74.3,265.3 74.5,264.1 74.6,262.9 74.7,261.7 74.8,260.5 74.8,259.3 74.9,258.1 75.0,256.9 75.1,255.7 75.1,254.5 75.2,253.3 75.2,252.1 75.2,250.9 75.3,249.7 75.3,248.5 75.4,247.3 75.4,246.1 75.4,244.9 75.4,243.7 75.5,242.5 75.5,241.3 75.5,240.1 75.6,238.9 75.6,237.6 75.6,236.4 75.7,235.2 75.7,234.0 75.7,232.8 75.8,231.6 75.8,230.4 75.9,229.2 75.9,228.0 76.0,226.8 76.0,225.6 76.1,224.4 76.2,223.2 76.3,222.0 76.4,220.8 76.5,219.6 76.6,218.4 76.7,217.2 76.8,216.0 77.0,214.8 77.1,213.6 77.3,212.4 77.4,211.2 77.6,210.0 77.8,208.9 78.0,207.7 78.3,206.5 78.5,205.3 78.8,204.1 79.0,203.0 79.3,201.8 79.6,200.6 79.9,199.5 80.3,198.3 80.6,197.2 81.0,196.0 81.4,194.9 81.8,193.7 82.2,192.6 82.7,191.5 83.1,190.4 83.6,189.3 84.1,188.2 84.7,187.1 85.2,186.0 85.8,185.0 86.4,184.0 87.1,183.0 87.9,182.1 88.8,181.2 89.7,180.5 90.8,179.9 91.9,179.5 93.1,179.2 94.3,179.0 95.4,178.8 96.6,178.7 97.8,178.6 99.0,178.5 100.2,178.3 101.4,178.1 102.6,177.9 103.8,177.6 104.9,177.2 106.1,176.8 107.2,176.4 108.3,176.0 109.5,175.7 110.7,175.4 111.8,175.2 113.0,175.0 114.2,175.0 115.4,175.1 116.6,175.4 117.8,175.7 118.9,176.2 120.0,176.7 121.0,177.3 121.9,178.1 122.8,178.9 123.6,179.8 124.4,180.8 125.1,181.7 125.8,182.7 126.5,183.7 127.2,184.6 127.9,185.6 128.6,186.6 129.3,187.6 129.9,188.6 130.6,189.6 131.2,190.6 131.9,191.6 132.5,192.7 133.2,193.7 133.8,194.7 134.4,195.7 135.1,196.8 135.7,197.8 136.3,198.8 136.9,199.9 137.5,200.9 138.1,201.9 138.7,203.0 139.3,204.0 139.9,205.1 140.6,206.1 141.2,207.1 141.8,208.2 142.4,209.2 143.0,210.3 143.6,211.3 144.2,212.4 144.8,213.4 145.4,214.4 146.0,215.5 146.6,216.5 147.2,217.6 147.8,218.6 148.4,219.6 149.1,220.7 149.7,221.7 150.3,222.7 150.9,223.7 151.6,224.8 152.2,225.8 152.9,226.8 153.5,227.8 154.2,228.8 154.8,229.8 155.5,230.8 156.2,231.8 156.9,232.8 157.5,233.8 158.2,234.8 158.9,235.8 159.7,236.7 160.4,237.7 161.1,238.7 161.9,239.6 162.6,240.5 163.4,241.5 164.1,242.4 164.9,243.3 165.7,244.2 166.5,245.1 167.3,246.0 168.1,246.9 169.0,247.8 169.8,248.6 170.7,249.5 171.5,250.3 172.4,251.1 173.3,251.9 174.2,252.7 175.2,253.5 176.1,254.2 177.0,255.0 178.0,255.7 179.0,256.4 180.0,257.1 181.0,257.8 182.0,258.4 183.0,259.1 184.0,259.7 185.0,260.3 186.1,260.9 187.1,261.5 188.2,262.1 189.3,262.6 190.4,263.2 191.4,263.7 192.5,264.2 193.6,264.7 194.7,265.2 195.8,265.6 197.0,266.1 198.1,266.5 199.2,267.0 200.3,267.4 201.5,267.8 202.6,268.2 203.8,268.5 204.9,268.9 206.1,269.3 207.2,269.6 208.4,269.9 209.5,270.2 210.7,270.6 211.9,270.8 213.0,271.1 214.2,271.4 215.4,271.7 216.6,271.9 217.7,272.2 218.9,272.4 220.1,272.7 221.3,272.9 222.5,273.1 223.7,273.3 224.8,273.5 226.0,273.7 227.2,273.9 228.4,274.0 229.6,274.2 230.8,274.0 232.0,274.6 233.2,274.6 234.4,274.5 235.6,275.0 236.8,274.7 238.0,275.2 239.2,275.6 240.4,275.1 241.6,275.5 242.8,275.5 244.0,275.3 245.2,275.8 246.4,275.4 247.6,275.9 248.8,276.3 250.0,276.2 251.2,276.2 252.4,276.5 253.6,276.1 254.8,276.6 256.0,276.3 257.2,275.7 258.4,276.2 259.6,276.1 260.8,276.2 262.0,276.4 263.2,276.2 264.4,276.2 265.6,276.4 266.8,276.5 268.0,275.9 269.2,276.4 270.5,276.5 271.7,276.1 272.9,276.5 274.1,276.6 275.3,276.2 276.5,276.2 277.7,276.0 278.9,276.0 280.1,276.2 281.3,275.8 282.5,276.1 283.7,276.1 284.9,276.1 286.1,275.6 287.3,275.5 288.5,276.1 289.7,275.3 290.9,275.5 292.1,275.5 293.3,275.5 294.5,275.4 295.7,275.1 296.9,275.3 298.1,274.9 299.3,275.0 300.5,274.7 301.7,274.8 302.9,274.8 304.1,274.8 305.3,274.8 306.5,274.7 307.7,274.4 308.9,274.8 310.1,274.5 311.3,274.5 312.5,274.6 313.7,274.3 314.9,274.0 316.1,274.4 317.3,274.2 318.6,274.2 319.8,273.6 321.0,273.9 322.2,273.9 323.4,273.8 324.6,273.2 325.8,273.3 327.0,273.3 328.2,273.4 329.4,273.4 330.6,273.3 331.8,273.0 333.0,273.3" stroke="#FF0000" stroke-width="2.2" fill="none" stroke-linejoin="round" stroke-linecap="round" clip-path="url(#ra)"/>
<line x1="257.6" y1="47.3" x2="289.0" y2="47.3" stroke="#FF8000" stroke-width="2.2"/>
<text x="292.0" y="51.4" font-size="12.6" font-weight="bold">650°C</text>
<line x1="257.6" y1="63.6" x2="289.0" y2="63.6" stroke="#BF2080" stroke-width="2.2"/>
<text x="292.0" y="67.7" font-size="12.6" font-weight="bold">600°C</text>
<line x1="257.6" y1="79.7" x2="289.0" y2="79.7" stroke="#0000FF" stroke-width="2.2"/>
<text x="292.0" y="83.8" font-size="12.6" font-weight="bold">550°C</text>
<line x1="257.6" y1="96.0" x2="289.0" y2="96.0" stroke="#FF0000" stroke-width="2.2"/>
<text x="292.0" y="100.1" font-size="12.6" font-weight="bold">500°C</text>
<line x1="257.6" y1="112.4" x2="289.0" y2="112.4" stroke="#9C6428" stroke-width="2.2"/>
<text x="292.0" y="116.5" font-size="12.6" font-weight="bold">450°C</text>
<line x1="257.6" y1="128.8" x2="289.0" y2="128.8" stroke="#00C43A" stroke-width="2.2"/>
<text x="292.0" y="132.9" font-size="12.6" font-weight="bold">300°C</text>
<line x1="257.6" y1="145.1" x2="289.0" y2="145.1" stroke="#000000" stroke-width="2.2"/>
<text x="292.0" y="149.2" font-size="12.6" font-weight="bold">25°C</text>
<text x="203.2" y="59.3" font-size="21.5" font-weight="bold" text-anchor="middle">(a)</text>
<path d="M73.90,293.50V298.70M84.69,293.50V298.70M106.28,293.50V298.70M117.07,293.50V298.70M127.86,293.50V298.70M149.44,293.50V298.70M160.23,293.50V298.70M171.03,293.50V298.70M192.61,293.50V298.70M203.40,293.50V298.70M214.19,293.50V298.70M235.78,293.50V298.70M246.57,293.50V298.70M257.36,293.50V298.70M278.94,293.50V298.70M289.73,293.50V298.70M300.52,293.50V298.70M322.11,293.50V298.70M332.90,293.50V298.70M95.48,292.00V300.20M138.65,292.00V300.20M181.82,292.00V300.20M224.98,292.00V300.20M268.15,292.00V300.20M311.32,292.00V300.20M71.30,287.47H76.50M71.30,278.83H76.50M71.30,270.20H76.50M71.30,261.57H76.50M71.30,244.30H76.50M71.30,235.67H76.50M71.30,227.03H76.50M71.30,218.40H76.50M71.30,201.13H76.50M71.30,192.50H76.50M71.30,183.87H76.50M71.30,175.23H76.50M71.30,157.97H76.50M71.30,149.33H76.50M71.30,140.70H76.50M71.30,132.07H76.50M71.30,114.80H76.50M71.30,106.17H76.50M71.30,97.53H76.50M71.30,88.90H76.50M71.30,71.63H76.50M71.30,63.00H76.50M71.30,54.37H76.50M71.30,45.73H76.50M69.80,296.10H78.00M69.80,252.93H78.00M69.80,209.77H78.00M69.80,166.60H78.00M69.80,123.43H78.00M69.80,80.27H78.00M69.80,37.10H78.00" stroke="#000" stroke-width="1.8" fill="none"/>
<rect x="73.90" y="37.10" width="259.00" height="259.00" stroke="#000" stroke-width="2.1" fill="none"/>
<text x="83.80" y="314.70" font-size="14">400</text>
<text x="126.97" y="314.70" font-size="14">600</text>
<text x="170.14" y="314.70" font-size="14">800</text>
<text x="209.41" y="314.70" font-size="14"> 000</text>
<path transform="translate(209.41,314.70) scale(0.00684,-0.00654)" d="M763 0H583V1147Q518 1085 412.5 1023T223 930V1104Q373 1175 485.5 1276T645 1472H763V0Z" fill="#111" stroke="#111" stroke-width="0.25" vector-effect="non-scaling-stroke"/>
<text x="252.58" y="314.70" font-size="14"> 200</text>
<path transform="translate(252.58,314.70) scale(0.00684,-0.00654)" d="M763 0H583V1147Q518 1085 412.5 1023T223 930V1104Q373 1175 485.5 1276T645 1472H763V0Z" fill="#111" stroke="#111" stroke-width="0.25" vector-effect="non-scaling-stroke"/>
<text x="295.74" y="314.70" font-size="14"> 400</text>
<path transform="translate(295.74,314.70) scale(0.00684,-0.00654)" d="M763 0H583V1147Q518 1085 412.5 1023T223 930V1104Q373 1175 485.5 1276T645 1472H763V0Z" fill="#111" stroke="#111" stroke-width="0.25" vector-effect="non-scaling-stroke"/>
<text x="58.61" y="300.30" font-size="14">0</text>
<text x="50.83" y="257.13" font-size="14"> 0</text>
<path transform="translate(50.83,257.13) scale(0.00684,-0.00654)" d="M763 0H583V1147Q518 1085 412.5 1023T223 930V1104Q373 1175 485.5 1276T645 1472H763V0Z" fill="#111" stroke="#111" stroke-width="0.25" vector-effect="non-scaling-stroke"/>
<text x="50.83" y="213.97" font-size="14">20</text>
<text x="50.83" y="170.80" font-size="14">30</text>
<text x="50.83" y="127.63" font-size="14">40</text>
<text x="50.83" y="84.47" font-size="14">50</text>
<text x="50.83" y="41.30" font-size="14">60</text>
<text transform="translate(38.3,158) rotate(-90)" text-anchor="middle" font-size="16.8">Transmitance (%)</text>
<text x="130.0" y="342.0" font-size="17">Wavelenght,</text>
<path transform="translate(229.00,330.30)" d="M0.6,1.6 C0.9,0.4 2.4,-0.2 3.3,1.0 C3.9,2.0 4.4,4.5 5.0,7.0 C5.6,9.5 6.2,11.3 7.2,11.3 C7.9,11.3 8.3,10.8 8.6,10.2 M4.0,4.2 L0.5,11.6" stroke="#1a1a1a" stroke-width="1.35" fill="none" stroke-linecap="round"/>
<text x="242.9" y="342.0" font-size="17">(nm)</text>
<rect x="413.9" y="36.7" width="259.3" height="259.5" fill="url(#gb)"/>
<path d="M414.5,124.0L415.1,125.0 415.7,126.1 416.2,127.2 416.6,128.3 417.0,129.4 417.4,130.6 417.7,131.7 417.9,132.9 418.2,134.1 418.3,135.3 418.5,136.5 418.6,137.7 418.7,138.9 418.8,140.1 418.9,141.3 418.9,142.5 418.9,143.7 419.0,144.9 419.0,146.1 419.0,147.3 419.0,148.5 419.0,149.7 419.0,150.9 419.0,152.1 419.1,153.3 419.1,154.5 419.1,155.7 419.2,156.9 419.2,158.1 419.2,159.3 419.3,160.5 419.3,161.7 419.4,162.9 419.4,164.1 419.5,165.3 419.5,166.5 419.6,167.7 419.7,168.9 419.7,170.2 419.8,171.4 419.8,172.6 419.9,173.8 420.0,175.0 420.0,176.2 420.1,177.4 420.1,178.6 420.2,179.8 420.3,181.0 420.3,182.2 420.4,183.4 420.5,184.6 420.5,185.8 420.6,187.0 420.6,188.2 420.7,189.4 420.7,190.6 420.8,191.8 420.9,193.0 420.9,194.2 421.0,195.4 421.0,196.6 421.0,197.8 421.1,199.0 421.1,200.2 421.2,201.4 421.2,202.6 421.3,203.8 421.3,205.0 421.3,206.2 421.4,207.4 421.4,208.6 421.5,209.8 421.5,211.0 421.5,212.2 421.6,213.5 421.6,214.7 421.7,215.9 421.7,217.1 421.8,218.3 421.8,219.5 421.9,220.7 421.9,221.9 422.0,223.1 422.1,224.3 422.2,225.5 422.3,226.7 422.5,227.9 422.7,229.1 422.8,230.2 423.1,231.4 423.4,232.6 424.1,232.6 424.5,231.5 424.7,230.3 424.9,229.1 425.1,227.9 425.3,226.7 425.4,225.6 425.6,224.4 425.7,223.2 425.9,222.0 426.0,220.8 426.1,219.6 426.3,218.4 426.4,217.2 426.6,216.0 426.7,214.8 426.9,213.6 427.0,212.4 427.2,211.2 427.3,210.0 427.4,208.8 427.5,207.6 427.6,206.4 427.8,205.2 427.8,204.0 427.9,202.8 428.0,201.6 428.1,200.4 428.2,199.2 428.2,198.0 428.3,196.8 428.3,195.6 428.4,194.4 428.4,193.2 428.4,192.0 428.5,190.8 428.6,189.6 428.6,188.4 428.7,187.2 428.8,186.0 429.0,184.8 429.1,183.6 429.3,182.4 429.5,181.2 429.8,180.1 430.1,178.9 430.6,177.8 431.2,176.7 432.0,175.9 433.2,175.5 434.4,175.6 435.5,176.1 436.5,176.7 437.4,177.5 438.2,178.4 438.9,179.4 439.6,180.4 440.1,181.5 440.6,182.6 441.0,183.7 441.3,184.9 441.6,186.0 441.9,187.2 442.1,188.4 442.3,189.6 442.6,190.8 442.8,191.9 443.0,193.1 443.3,194.3 443.5,195.5 443.8,196.6 444.2,197.8 444.5,198.9 444.9,200.1 445.3,201.2 445.7,202.3 446.1,203.5 446.6,204.6 447.0,205.7 447.5,206.8 447.9,208.0 448.3,209.1 448.7,210.2 449.1,211.4 449.5,212.5 449.8,213.7 450.2,214.8 450.5,216.0 450.8,217.1 451.2,218.3 451.5,219.4 451.8,220.6 452.1,221.8 452.4,222.9 452.7,224.1 453.1,225.3 453.4,226.4 453.7,227.6 454.0,228.7 454.4,229.9 454.7,231.0 455.1,232.2 455.5,233.3 455.9,234.5 456.3,235.6 456.7,236.7 457.2,237.8 457.7,238.9 458.1,240.0 458.7,241.1 459.2,242.2 459.8,243.3 460.4,244.3 461.0,245.3 461.7,246.3 462.3,247.3 463.0,248.3 463.8,249.2 464.6,250.2 465.5,251.0 466.4,251.7 467.4,252.4 468.5,252.8 469.7,253.0 470.9,252.9 472.1,252.6 473.2,252.2 474.3,251.7 475.4,251.1 476.4,250.4 477.3,249.7 478.3,248.9 479.2,248.1 480.0,247.3 480.9,246.5 481.7,245.6 482.5,244.7 483.3,243.7 484.0,242.8 484.8,241.9 485.5,240.9 486.2,239.9 487.0,239.0 487.7,238.0 488.5,237.1 489.2,236.2 490.0,235.2 490.8,234.3 491.5,233.4 492.3,232.5 493.1,231.6 493.9,230.7 494.7,229.8 495.5,228.9 496.3,228.0 497.1,227.1 497.9,226.2 498.7,225.3 499.6,224.4 500.4,223.5 501.2,222.6 502.0,221.8 502.8,220.9 503.6,220.0 504.4,219.1 505.2,217.9 506.0,217.1 506.8,216.1 507.6,215.1 508.4,213.7 509.2,214.0 510.0,212.8 510.8,211.9 511.6,211.2 512.3,210.1 513.1,209.3 513.9,208.1 514.7,207.7 515.4,206.7 516.2,205.6 517.0,204.6 517.7,204.0 518.5,202.6 519.2,201.7 520.0,200.6 520.8,199.8 521.5,198.6 522.3,197.5 523.0,197.1 523.8,195.7 524.5,195.2 525.3,193.8 526.0,193.1 526.8,191.9 527.5,191.3 528.3,190.4 529.1,189.6 529.8,189.2 530.6,187.4 531.3,186.7 532.1,185.8 532.8,184.7 533.6,183.9 534.4,182.2 535.1,182.2 535.9,181.2 536.7,180.3 537.4,179.5 538.2,178.5 539.0,177.2 539.8,176.3 540.6,175.8 541.3,174.8 542.1,173.8 542.9,172.9 543.7,171.7 544.5,170.8 545.3,170.0 546.1,169.4 546.9,168.0 547.7,167.2 548.6,166.4 549.4,166.1 550.2,164.6 551.0,164.0 551.9,162.3 552.7,162.1 553.5,161.3 554.4,160.4 555.2,159.7 556.1,158.4 556.9,157.9 557.8,156.9 558.6,156.2 559.5,155.5 560.4,154.5 561.3,153.7 562.1,152.9 563.0,152.1 563.9,151.4 564.8,150.8 565.7,149.6 566.6,148.9 567.5,148.2 568.4,147.3 569.3,146.6 570.2,145.8 571.1,144.8 572.0,144.4 572.9,143.7 573.8,142.7 574.8,141.7 575.7,141.0 576.6,140.2 577.5,139.6 578.5,138.7 579.4,137.9 580.4,137.3 581.3,136.6 582.3,135.9 583.2,135.0 584.2,134.4 585.1,133.3 586.1,133.1 587.1,131.9 588.0,131.5 589.0,130.4 590.0,130.0 591.0,129.0 591.9,128.4 592.9,128.4 593.9,127.7 594.9,126.8 595.9,125.4 596.9,125.0 597.9,124.2 598.9,123.7 599.9,123.3 600.9,122.5 601.9,122.0 602.9,120.9 604.0,120.3 605.0,120.2 606.0,118.9 607.0,118.3 608.1,118.3 609.1,118.0 610.1,116.7 611.2,116.8 612.2,115.5 613.2,115.5 614.3,114.6 615.3,113.7 616.4,113.1 617.5,112.3 618.5,111.8 619.6,111.4 620.6,110.3 621.7,109.8 622.8,109.3 623.8,109.1 624.9,108.4 626.0,107.7 627.1,107.6 628.1,107.8 629.2,106.1 630.3,106.1 631.4,105.3 632.5,104.8 633.6,104.2 634.7,103.7 635.8,103.6 636.9,102.7 638.0,102.3 639.1,102.3 640.2,101.8 641.3,101.1 642.4,100.7 643.5,99.9 644.6,99.3 645.8,99.0 646.9,99.5 648.0,98.6 649.1,97.8 650.3,97.3 651.4,96.9 652.5,96.9 653.7,96.9 654.8,96.0 655.9,95.7 657.1,95.2 658.2,94.7 659.3,94.3 660.5,94.4 661.6,93.7 662.8,93.2 663.9,92.4 665.1,92.8 666.2,91.8 667.4,91.5 668.6,91.3 669.7,91.2 670.9,91.0 672.0,90.5 673.2,90.7" stroke="#000000" stroke-width="2.5" fill="none" stroke-linejoin="round" stroke-linecap="round" clip-path="url(#cb)"/>
<path d="M414.7,131.0L414.7,132.2 414.8,133.5 414.8,134.7 414.8,135.9 414.9,137.1 414.9,138.3 414.9,139.5 415.0,140.7 415.1,141.9 415.1,143.1 415.2,144.3 415.2,145.5 415.3,146.7 415.4,147.9 415.4,149.1 415.5,150.3 415.6,151.5 415.6,152.7 415.7,153.9 415.8,155.1 415.9,156.3 415.9,157.5 416.0,158.7 416.1,159.9 416.2,161.1 416.2,162.3 416.3,163.5 416.4,164.7 416.4,165.9 416.5,167.1 416.6,168.3 416.6,169.5 416.7,170.7 416.8,171.9 416.8,173.1 416.9,174.3 416.9,175.5 417.0,176.7 417.0,177.9 417.1,179.1 417.2,180.3 417.3,181.5 417.4,182.7 417.5,183.9 417.6,185.1 417.7,186.3 417.8,187.5 418.0,188.7 418.1,189.9 418.3,191.1 418.5,192.3 418.7,193.4 418.9,194.6 419.1,195.8 419.3,197.0 419.6,198.2 420.1,199.1 420.5,198.0 420.7,196.8 420.8,195.6 420.9,194.4 421.0,193.2 421.1,192.0 421.2,190.8 421.3,189.6 421.3,188.4 421.4,187.2 421.5,186.0 421.7,184.8 421.8,183.6 421.9,182.4 422.1,181.3 422.3,180.1 422.6,178.9 423.1,177.9 424.1,178.3 424.7,179.4 425.2,180.5 425.6,181.6 426.1,182.7 426.5,183.8 427.0,184.9 427.4,186.0 427.9,187.1 428.4,188.2 428.9,189.3 429.4,190.4 430.0,191.5 430.5,192.6 431.0,193.7 431.6,194.7 432.1,195.8 432.6,196.9 433.2,198.0 433.7,199.1 434.2,200.2 434.6,201.3 435.1,202.4 435.5,203.5 436.0,204.6 436.4,205.7 436.8,206.9 437.2,208.0 437.6,209.1 438.0,210.3 438.4,211.4 438.7,212.6 439.1,213.7 439.5,214.9 439.8,216.0 440.2,217.2 440.5,218.3 440.9,219.5 441.2,220.6 441.6,221.8 441.9,222.9 442.2,224.1 442.6,225.2 443.0,226.4 443.3,227.5 443.7,228.7 444.1,229.8 444.4,230.9 444.8,232.1 445.2,233.2 445.6,234.4 446.0,235.5 446.4,236.6 446.9,237.7 447.3,238.9 447.8,240.0 448.3,241.1 448.8,242.2 449.3,243.3 449.8,244.3 450.4,245.4 450.9,246.5 451.5,247.5 452.1,248.5 452.8,249.6 453.5,250.6 454.2,251.5 454.9,252.5 455.6,253.4 456.4,254.4 457.2,255.3 458.0,256.1 458.9,257.0 459.7,257.8 460.6,258.6 461.5,259.4 462.5,260.2 463.4,260.9 464.4,261.7 465.4,262.3 466.4,263.0 467.4,263.6 468.5,264.2 469.5,264.7 470.7,265.1 471.8,265.5 473.0,265.8 474.2,265.9 475.4,265.8 476.6,265.6 477.7,265.2 478.8,264.6 479.8,264.0 480.7,263.2 481.6,262.4 482.4,261.5 483.2,260.6 483.9,259.6 484.6,258.6 485.2,257.6 485.8,256.6 486.4,255.6 487.0,254.5 487.6,253.4 488.2,252.4 488.7,251.3 489.3,250.2 489.8,249.2 490.4,248.1 490.9,247.0 491.5,246.0 492.0,244.9 492.6,243.8 493.1,242.8 493.7,241.7 494.3,240.6 494.8,239.6 495.4,238.5 496.0,237.5 496.6,236.4 497.2,235.4 497.8,234.3 498.3,233.3 498.9,232.2 499.5,231.2 500.1,230.1 500.7,229.1 501.3,228.0 501.9,227.0 502.5,225.9 503.1,224.9 503.7,223.8 504.3,222.8 504.9,221.8 505.4,220.9 506.0,219.6 506.6,218.1 507.2,217.7 507.8,216.2 508.4,215.4 508.9,214.2 509.5,213.3 510.1,212.2 510.7,211.5 511.2,210.0 511.8,208.9 512.4,207.9 512.9,207.0 513.5,205.9 514.0,204.8 514.6,203.8 515.1,202.1 515.7,201.2 516.2,200.4 516.8,199.2 517.3,198.3 517.9,197.5 518.4,196.3 519.0,195.8 519.5,194.2 520.1,193.2 520.6,192.3 521.2,191.1 521.7,190.3 522.3,188.9 522.8,187.4 523.4,186.6 523.9,185.5 524.5,184.1 525.0,183.1 525.6,181.9 526.1,181.0 526.7,180.5 527.2,179.1 527.8,177.8 528.3,177.2 528.9,175.7 529.4,174.9 530.0,173.6 530.6,172.5 531.1,171.6 531.7,170.6 532.3,169.6 532.8,168.6 533.4,167.1 534.0,166.2 534.6,165.3 535.1,164.2 535.7,163.5 536.3,161.6 536.9,161.3 537.5,160.4 538.1,159.5 538.7,158.3 539.3,156.6 539.9,156.0 540.6,155.0 541.2,153.6 541.8,152.7 542.5,151.7 543.1,151.1 543.8,150.0 544.5,148.6 545.2,147.7 545.9,146.3 546.6,145.9 547.3,145.4 548.1,144.0 548.8,143.3 549.6,142.5 550.4,141.2 551.2,140.1 552.0,140.0 552.8,138.7 553.7,137.5 554.5,136.6 555.4,136.8 556.3,135.6 557.2,134.7 558.1,133.8 559.0,133.1 559.9,131.7 560.9,131.7 561.8,130.8 562.7,130.0 563.7,129.2 564.6,128.2 565.6,127.7 566.6,126.8 567.5,126.1 568.5,125.4 569.4,124.6 570.4,123.9 571.3,123.2 572.3,123.1 573.2,121.5 574.2,120.7 575.1,120.4 576.0,119.9 577.0,119.0 577.9,118.6 578.8,117.5 579.8,116.6 580.7,116.2 581.6,115.2 582.6,113.2 583.5,113.6 584.4,112.9 585.4,112.3 586.3,111.3 587.3,111.0 588.2,109.8 589.2,108.7 590.1,108.4 591.1,107.2 592.0,106.5 593.0,105.9 593.9,105.6 594.9,104.8 595.9,104.7 596.8,103.4 597.8,102.8 598.8,102.2 599.8,100.9 600.8,100.6 601.8,99.8 602.8,99.2 603.8,98.5 604.8,97.9 605.8,97.4 606.9,96.4 607.9,95.8 609.0,95.3 610.0,95.1 611.1,93.9 612.1,93.8 613.2,93.0 614.3,91.8 615.4,91.7 616.4,91.3 617.5,90.3 618.6,90.1 619.7,89.9 620.8,89.2 621.9,88.6 623.0,88.0 624.2,87.6 625.3,87.9 626.4,87.3 627.5,87.1 628.6,86.2 629.8,86.4 630.9,85.3 632.0,85.5 633.1,84.6 634.3,84.4 635.4,84.1 636.6,83.4 637.7,83.1 638.8,83.2 640.0,81.3 641.1,81.7 642.3,81.3 643.4,80.7 644.6,81.1 645.7,80.5 646.8,80.3 648.0,80.0 649.1,79.5 650.3,78.7 651.4,78.4 652.6,78.9 653.7,77.8 654.9,77.9 656.0,77.7 657.2,76.7 658.3,76.7 659.5,75.7 660.6,76.4 661.8,75.1 662.9,75.1 664.1,74.6 665.2,74.3 666.3,73.6 667.5,73.7 668.6,73.2 669.8,72.9 670.9,72.5 672.0,71.8 673.2,71.7" stroke="#22C84A" stroke-width="2.5" fill="none" stroke-linejoin="round" stroke-linecap="round" clip-path="url(#cb)"/>
<path d="M414.8,113.5L414.9,114.7 414.9,115.9 415.0,117.1 415.0,118.3 415.1,119.5 415.1,120.7 415.2,121.9 415.2,123.1 415.3,124.3 415.3,125.5 415.4,126.7 415.4,127.9 415.4,129.1 415.5,130.3 415.5,131.6 415.6,132.8 415.7,134.0 415.7,135.2 415.8,136.4 415.8,137.6 415.9,138.8 415.9,140.0 416.0,141.2 416.1,142.4 416.1,143.6 416.2,144.8 416.2,146.0 416.3,147.2 416.4,148.4 416.5,149.6 416.5,150.8 416.6,152.0 416.7,153.2 416.8,154.4 416.9,155.6 417.0,156.8 417.1,158.0 417.3,159.2 417.5,160.4 417.7,161.6 417.9,162.7 418.2,163.9 418.6,165.0 419.5,165.5 420.4,164.6 421.0,163.6 421.8,162.7 422.8,162.9 423.4,163.9 424.0,165.0 424.5,166.0 425.0,167.1 425.5,168.2 426.0,169.3 426.4,170.5 426.8,171.6 427.2,172.7 427.6,173.9 428.0,175.0 428.4,176.1 428.8,177.3 429.1,178.4 429.5,179.6 429.8,180.7 430.2,181.9 430.5,183.1 430.8,184.2 431.2,185.4 431.5,186.5 431.8,187.7 432.1,188.8 432.5,190.0 432.8,191.2 433.1,192.3 433.4,193.5 433.7,194.7 434.0,195.8 434.3,197.0 434.6,198.2 434.9,199.3 435.2,200.5 435.5,201.7 435.8,202.8 436.1,204.0 436.4,205.1 436.7,206.3 437.0,207.5 437.3,208.6 437.6,209.8 438.0,211.0 438.3,212.1 438.6,213.3 438.9,214.4 439.3,215.6 439.6,216.8 439.9,217.9 440.2,219.1 440.6,220.2 440.9,221.4 441.2,222.5 441.6,223.7 441.9,224.9 442.2,226.0 442.6,227.2 442.9,228.3 443.2,229.5 443.6,230.6 443.9,231.8 444.2,233.0 444.5,234.1 444.9,235.3 445.2,236.4 445.5,237.6 445.8,238.8 446.1,239.9 446.4,241.1 446.7,242.3 447.0,243.4 447.3,244.6 447.6,245.8 447.9,246.9 448.3,248.1 448.6,249.2 449.0,250.4 449.4,251.5 449.8,252.6 450.3,253.8 450.7,254.9 451.2,256.0 451.7,257.1 452.2,258.1 452.8,259.2 453.4,260.3 454.0,261.3 454.7,262.3 455.3,263.3 456.0,264.3 456.8,265.2 457.5,266.2 458.3,267.1 459.1,268.0 459.9,268.8 460.8,269.7 461.7,270.5 462.6,271.3 463.6,272.0 464.6,272.7 465.6,273.3 466.6,273.9 467.7,274.4 468.8,274.9 470.0,275.2 471.2,275.4 472.4,275.5 473.6,275.5 474.8,275.3 475.9,274.9 477.0,274.5 478.1,273.9 479.1,273.3 480.1,272.6 481.0,271.9 481.9,271.0 482.8,270.2 483.6,269.3 484.4,268.4 485.1,267.4 485.8,266.5 486.5,265.5 487.1,264.4 487.7,263.4 488.3,262.3 488.8,261.3 489.4,260.2 489.9,259.1 490.3,258.0 490.8,256.9 491.2,255.7 491.7,254.6 492.1,253.5 492.5,252.4 493.0,251.2 493.4,250.1 493.8,249.0 494.2,247.9 494.7,246.7 495.1,245.6 495.5,244.5 496.0,243.4 496.4,242.2 496.8,241.1 497.3,240.0 497.7,238.9 498.1,237.8 498.6,236.6 499.0,235.5 499.4,234.4 499.9,233.3 500.3,232.2 500.8,231.0 501.2,229.9 501.7,228.8 502.1,227.7 502.6,226.6 503.0,225.5 503.5,224.3 503.9,223.2 504.4,222.1 504.9,221.0 505.3,219.8 505.8,218.3 506.3,217.8 506.7,216.7 507.2,215.7 507.7,214.3 508.2,212.9 508.6,212.2 509.1,211.5 509.6,209.8 510.1,209.1 510.6,208.1 511.1,207.0 511.6,205.6 512.1,204.7 512.6,203.4 513.1,201.9 513.6,200.8 514.1,200.1 514.6,198.5 515.1,198.6 515.7,196.9 516.2,195.5 516.7,194.7 517.3,193.3 517.8,192.9 518.3,191.2 518.9,190.5 519.4,189.6 520.0,188.4 520.5,187.0 521.1,186.7 521.7,185.4 522.2,184.3 522.8,183.0 523.4,181.4 524.0,180.7 524.5,179.0 525.1,178.5 525.7,177.3 526.3,176.1 526.9,176.0 527.5,174.1 528.1,173.1 528.7,172.2 529.2,171.3 529.8,170.1 530.4,169.0 531.0,168.2 531.6,166.7 532.2,166.2 532.7,165.1 533.3,164.4 533.9,163.1 534.4,161.6 535.0,160.3 535.5,159.7 536.1,158.3 536.6,157.6 537.1,156.4 537.7,155.3 538.2,154.4 538.7,152.6 539.2,151.9 539.8,151.2 540.3,149.5 540.8,148.8 541.4,147.7 541.9,147.0 542.5,146.2 543.0,144.5 543.6,143.7 544.2,142.5 544.8,141.8 545.4,140.6 546.0,139.3 546.6,139.0 547.3,137.0 548.0,136.7 548.7,135.1 549.4,134.0 550.1,133.3 550.9,132.1 551.7,132.3 552.5,130.7 553.3,129.8 554.2,129.2 555.1,128.0 556.0,127.5 556.9,126.2 557.8,125.6 558.7,125.3 559.6,124.5 560.5,123.2 561.3,122.6 562.2,121.7 563.1,121.0 563.9,119.8 564.7,119.0 565.6,118.4 566.4,117.5 567.2,116.3 568.0,115.3 568.8,114.2 569.7,113.3 570.5,112.8 571.3,112.3 572.1,111.1 572.9,110.8 573.7,110.0 574.5,108.5 575.4,108.0 576.2,106.9 577.0,105.6 577.9,105.3 578.8,104.2 579.6,104.3 580.5,102.7 581.4,101.7 582.3,101.2 583.2,100.6 584.1,99.5 585.0,98.6 585.9,97.2 586.8,96.6 587.7,95.7 588.7,95.1 589.6,95.1 590.6,94.1 591.5,93.3 592.5,92.5 593.4,91.7 594.4,90.8 595.4,90.8 596.4,89.7 597.4,89.4 598.4,88.0 599.4,87.5 600.4,87.3 601.4,86.5 602.4,85.2 603.4,84.9 604.5,84.1 605.5,83.9 606.5,83.1 607.6,82.9 608.7,81.7 609.7,81.4 610.8,81.1 611.9,80.2 612.9,79.7 614.0,79.4 615.1,78.7 616.2,78.3 617.3,77.6 618.4,77.3 619.5,77.4 620.6,76.6 621.7,75.5 622.8,75.3 623.9,75.0 625.0,74.8 626.2,73.9 627.3,73.7 628.4,73.2 629.5,73.1 630.7,73.0 631.8,71.9 632.9,71.7 634.1,71.1 635.2,70.9 636.4,70.7 637.5,69.7 638.7,69.7 639.8,69.8 640.9,69.1 642.1,68.6 643.2,68.8 644.4,67.6 645.5,67.5 646.7,67.2 647.8,66.9 649.0,66.8 650.2,66.0 651.3,65.9 652.5,65.5 653.6,65.0 654.8,64.9 655.9,65.0 657.1,64.0 658.2,63.1 659.4,63.5 660.5,63.2 661.7,63.1 662.9,62.5 664.0,61.4 665.2,61.5 666.3,61.5 667.5,61.5 668.6,61.3 669.8,60.4 670.9,60.0 672.1,59.7 673.2,59.2" stroke="#9C6428" stroke-width="2.5" fill="none" stroke-linejoin="round" stroke-linecap="round" clip-path="url(#cb)"/>
<path d="M414.3,156.0L414.7,157.2 415.3,158.2 416.4,158.2 416.9,157.2 417.3,156.0 417.6,154.9 417.8,153.7 418.1,152.5 418.3,151.3 418.6,150.1 418.8,149.0 419.1,147.8 419.4,146.6 419.9,145.5 420.8,144.8 421.7,145.6 422.2,146.7 422.6,147.8 423.0,149.0 423.3,150.1 423.6,151.3 423.9,152.5 424.2,153.6 424.4,154.8 424.7,156.0 424.9,157.2 425.1,158.4 425.2,159.6 425.4,160.8 425.5,162.0 425.7,163.2 425.8,164.4 425.9,165.6 426.0,166.8 426.1,168.0 426.2,169.2 426.3,170.4 426.4,171.6 426.6,172.8 426.7,174.0 426.8,175.2 426.9,176.4 427.1,177.6 427.2,178.8 427.4,179.9 427.5,181.1 427.7,182.3 427.9,183.5 428.0,184.7 428.2,185.9 428.4,187.1 428.6,188.3 428.8,189.5 429.0,190.7 429.2,191.9 429.4,193.1 429.6,194.2 429.9,195.4 430.1,196.6 430.3,197.8 430.5,199.0 430.8,200.2 431.0,201.3 431.3,202.5 431.5,203.7 431.8,204.9 432.0,206.1 432.3,207.2 432.5,208.4 432.8,209.6 433.1,210.8 433.3,211.9 433.6,213.1 433.9,214.3 434.2,215.5 434.5,216.6 434.7,217.8 435.0,219.0 435.3,220.1 435.6,221.3 435.9,222.5 436.2,223.7 436.5,224.8 436.8,226.0 437.1,227.2 437.4,228.3 437.7,229.5 438.0,230.7 438.4,231.8 438.7,233.0 439.1,234.1 439.4,235.3 439.8,236.4 440.2,237.6 440.6,238.7 441.0,239.8 441.4,241.0 441.9,242.1 442.3,243.2 442.8,244.3 443.3,245.4 443.8,246.5 444.4,247.5 445.0,248.6 445.5,249.7 446.1,250.7 446.8,251.7 447.4,252.7 448.1,253.7 448.8,254.7 449.5,255.7 450.3,256.6 451.1,257.6 451.9,258.4 452.7,259.3 453.6,260.1 454.6,260.9 455.5,261.6 456.6,262.2 457.7,262.7 458.8,263.0 460.0,263.3 461.2,263.4 462.4,263.5 463.6,263.4 464.8,263.3 466.0,263.1 467.2,262.8 468.3,262.4 469.5,262.0 470.6,261.5 471.7,261.0 472.7,260.4 473.7,259.8 474.7,259.1 475.7,258.3 476.6,257.6 477.5,256.7 478.3,255.9 479.1,255.0 479.9,254.1 480.7,253.1 481.4,252.2 482.1,251.2 482.8,250.2 483.4,249.2 484.0,248.1 484.7,247.1 485.3,246.1 485.9,245.0 486.5,244.0 487.0,242.9 487.6,241.9 488.2,240.8 488.7,239.7 489.3,238.6 489.8,237.6 490.3,236.5 490.9,235.4 491.4,234.3 491.9,233.2 492.4,232.1 492.9,231.0 493.4,229.9 493.8,228.8 494.3,227.7 494.8,226.6 495.3,225.5 495.7,224.4 496.2,223.2 496.7,222.1 497.1,221.0 497.6,219.9 498.1,218.8 498.5,217.7 499.0,216.6 499.4,215.5 499.9,214.3 500.4,213.2 500.8,212.1 501.3,211.0 501.8,209.9 502.3,208.8 502.7,207.7 503.2,206.6 503.7,205.5 504.2,204.4 504.7,203.3 505.2,201.8 505.7,201.5 506.3,199.8 506.8,199.1 507.3,197.8 507.9,196.5 508.4,195.4 509.0,194.8 509.6,193.3 510.2,192.5 510.8,191.4 511.4,190.3 512.0,188.7 512.6,188.6 513.3,187.4 513.9,186.2 514.6,185.3 515.3,184.5 515.9,183.6 516.6,182.0 517.3,181.7 518.0,180.2 518.8,179.2 519.5,178.1 520.2,177.3 520.9,176.9 521.7,175.6 522.4,174.4 523.1,173.6 523.8,172.2 524.6,171.9 525.3,170.6 526.0,169.8 526.7,168.5 527.4,168.0 528.1,167.6 528.8,165.8 529.5,164.5 530.2,164.0 530.9,162.8 531.5,161.8 532.2,160.6 532.8,160.1 533.4,158.9 534.1,157.5 534.7,156.6 535.3,155.9 535.9,154.7 536.5,154.2 537.1,152.8 537.7,151.9 538.4,150.3 539.0,149.9 539.6,148.6 540.2,146.9 540.8,146.7 541.4,145.5 542.1,144.7 542.7,143.9 543.3,142.1 544.0,141.8 544.7,140.7 545.3,139.0 546.0,138.1 546.7,136.8 547.4,136.3 548.1,135.2 548.8,134.2 549.6,134.0 550.3,132.4 551.1,131.5 551.8,130.8 552.6,129.6 553.4,128.7 554.2,128.0 555.0,127.3 555.8,126.0 556.6,124.9 557.4,124.2 558.2,123.4 559.1,122.5 559.9,121.9 560.8,121.0 561.6,119.8 562.5,118.6 563.4,118.0 564.3,117.6 565.1,116.8 566.0,116.3 566.9,114.7 567.8,113.7 568.8,113.4 569.7,112.1 570.6,111.7 571.5,111.5 572.5,110.1 573.4,109.9 574.4,108.9 575.3,108.0 576.3,107.4 577.2,106.5 578.2,105.6 579.2,105.3 580.2,104.7 581.1,104.1 582.1,103.3 583.1,103.0 584.1,101.6 585.1,101.1 586.1,100.0 587.1,100.2 588.2,99.5 589.2,98.5 590.2,98.2 591.2,97.6 592.3,96.8 593.3,96.4 594.4,95.4 595.4,94.6 596.5,94.4 597.5,93.6 598.6,92.9 599.6,92.5 600.7,91.4 601.8,91.1 602.8,90.4 603.9,90.1 605.0,90.4 606.0,89.6 607.1,88.7 608.2,88.1 609.3,87.9 610.4,87.1 611.5,86.5 612.6,86.1 613.7,85.8 614.8,85.6 615.9,84.9 617.0,84.6 618.1,83.6 619.2,82.9 620.3,83.2 621.4,81.7 622.6,81.7 623.7,81.7 624.8,81.3 625.9,79.9 627.1,79.7 628.2,79.5 629.3,79.5 630.4,78.9 631.6,77.4 632.7,77.9 633.8,77.3 635.0,77.8 636.1,76.8 637.3,76.5 638.4,76.0 639.6,75.2 640.7,75.5 641.8,74.9 643.0,74.5 644.1,73.9 645.3,73.3 646.4,73.2 647.6,73.3 648.8,72.7 649.9,72.2 651.1,72.3 652.2,71.6 653.4,71.2 654.5,71.0 655.7,70.2 656.9,70.3 658.0,69.8 659.2,69.3 660.4,69.3 661.5,68.8 662.7,69.0 663.9,68.3 665.0,68.4 666.2,68.0 667.4,67.7 668.5,68.0 669.7,67.2 670.9,67.1 672.0,66.8 673.2,66.4" stroke="#FF0000" stroke-width="2.5" fill="none" stroke-linejoin="round" stroke-linecap="round" clip-path="url(#cb)"/>
<path d="M414.1,179.1L413.8,180.2 413.5,181.4 413.3,182.6 413.3,183.8 413.4,185.0 414.0,186.0 415.0,186.7 416.1,187.0 417.3,187.2 418.5,187.3 419.7,187.5 420.8,188.1 421.6,189.0 422.2,190.0 422.7,191.1 423.1,192.2 423.4,193.4 423.7,194.6 424.1,195.7 424.4,196.9 424.7,198.0 425.0,199.2 425.4,200.4 425.7,201.5 426.0,202.7 426.3,203.8 426.6,205.0 426.9,206.2 427.2,207.3 427.5,208.5 427.8,209.7 428.1,210.8 428.4,212.0 428.7,213.2 429.0,214.3 429.3,215.5 429.6,216.7 429.9,217.8 430.2,219.0 430.5,220.2 430.8,221.3 431.1,222.5 431.4,223.7 431.7,224.8 432.0,226.0 432.3,227.2 432.6,228.3 432.9,229.5 433.2,230.7 433.5,231.8 433.8,233.0 434.1,234.2 434.4,235.3 434.6,236.5 434.9,237.7 435.3,238.8 435.6,240.0 435.9,241.1 436.2,242.3 436.6,243.5 436.9,244.6 437.3,245.7 437.7,246.9 438.2,248.0 438.6,249.1 439.1,250.2 439.6,251.3 440.1,252.4 440.6,253.5 441.2,254.5 441.8,255.6 442.5,256.6 443.2,257.6 443.9,258.5 444.6,259.5 445.4,260.4 446.2,261.3 447.1,262.2 447.9,263.0 448.8,263.8 449.8,264.5 450.7,265.3 451.7,266.0 452.7,266.6 453.7,267.3 454.8,267.9 455.8,268.4 456.9,268.9 458.0,269.4 459.2,269.9 460.3,270.2 461.5,270.6 462.6,270.8 463.8,271.0 465.0,271.2 466.2,271.2 467.4,271.2 468.6,271.0 469.8,270.8 471.0,270.4 472.1,270.0 473.2,269.5 474.2,268.9 475.2,268.2 476.2,267.5 477.1,266.7 478.0,265.9 478.8,265.0 479.6,264.1 480.4,263.2 481.2,262.3 481.9,261.3 482.6,260.3 483.2,259.3 483.9,258.3 484.5,257.3 485.1,256.2 485.7,255.2 486.3,254.1 486.8,253.1 487.3,252.0 487.9,250.9 488.4,249.8 488.9,248.7 489.3,247.6 489.8,246.5 490.2,245.4 490.7,244.2 491.1,243.1 491.5,242.0 491.9,240.9 492.3,239.7 492.7,238.6 493.1,237.4 493.4,236.3 493.8,235.1 494.1,234.0 494.5,232.8 494.8,231.7 495.1,230.5 495.5,229.3 495.8,228.2 496.1,227.0 496.4,225.9 496.7,224.7 497.1,223.5 497.4,222.4 497.7,221.2 498.0,220.1 498.3,218.9 498.6,217.7 498.9,216.6 499.3,215.4 499.6,214.2 499.9,213.1 500.3,211.9 500.6,210.8 500.9,209.6 501.3,208.5 501.6,207.3 502.0,206.2 502.3,205.0 502.7,203.9 503.0,202.7 503.4,201.6 503.7,200.4 504.1,199.3 504.5,198.1 504.9,197.0 505.2,195.8 505.6,194.9 506.0,193.5 506.4,192.8 506.8,191.5 507.2,189.7 507.6,189.0 508.0,187.9 508.4,186.8 508.8,185.8 509.2,184.6 509.7,183.2 510.1,182.0 510.5,180.9 510.9,179.8 511.4,179.2 511.8,177.4 512.3,177.1 512.7,174.9 513.2,174.3 513.7,173.0 514.1,172.1 514.6,170.8 515.1,169.9 515.6,168.4 516.1,167.9 516.6,166.9 517.1,166.0 517.6,165.1 518.1,163.9 518.6,162.2 519.1,161.5 519.6,160.0 520.2,159.0 520.7,157.9 521.2,156.8 521.8,156.0 522.3,155.1 522.9,153.6 523.5,152.2 524.0,152.0 524.6,150.0 525.2,149.2 525.7,148.3 526.3,147.4 526.9,146.5 527.5,145.1 528.1,144.5 528.7,143.2 529.3,142.2 529.9,140.8 530.4,140.0 531.0,138.6 531.6,137.9 532.3,136.9 532.9,135.6 533.5,135.2 534.1,134.2 534.7,132.5 535.3,131.7 535.9,131.0 536.5,129.9 537.1,128.5 537.7,127.7 538.3,126.2 538.9,125.3 539.5,124.2 540.2,123.5 540.8,122.4 541.4,121.3 542.0,119.9 542.6,120.0 543.2,117.7 543.8,116.7 544.4,115.7 545.0,114.5 545.6,113.7 546.2,113.1 546.8,111.8 547.4,111.1 548.0,109.9 548.6,108.3 549.1,107.3 549.7,106.6 550.3,105.5 550.9,104.5 551.5,103.7 552.1,102.7 552.7,101.6 553.3,100.4 553.9,99.8 554.6,98.6 555.2,97.0 555.9,96.1 556.5,95.3 557.2,94.2 557.9,93.5 558.7,92.7 559.4,91.8 560.1,90.5 560.9,90.0 561.7,88.2 562.5,87.4 563.4,87.3 564.2,86.2 565.1,85.2 566.0,84.8 566.9,83.7 567.9,83.2 568.8,82.4 569.7,81.7 570.7,80.9 571.7,80.3 572.7,78.9 573.7,78.7 574.7,77.7 575.7,77.4 576.7,76.7 577.7,75.9 578.7,75.2 579.7,74.2 580.8,74.4 581.8,73.2 582.9,73.3 583.9,72.3 585.0,71.2 586.0,70.5 587.1,70.7 588.1,70.3 589.2,69.4 590.3,68.7 591.4,68.5 592.4,67.5 593.5,67.5 594.6,66.6 595.7,66.3 596.8,65.7 597.9,65.1 599.0,65.4 600.1,64.1 601.2,64.0 602.3,63.2 603.4,63.2 604.5,62.4 605.6,62.0 606.7,61.4 607.9,61.1 609.0,61.0 610.1,60.6 611.2,60.0 612.4,59.5 613.5,58.7 614.6,58.9 615.7,58.2 616.9,57.4 618.0,57.3 619.1,56.8 620.3,56.5 621.4,56.2 622.6,55.3 623.7,55.0 624.8,55.3 626.0,54.8 627.1,54.3 628.3,54.0 629.4,53.3 630.6,52.9 631.7,52.9 632.9,52.0 634.0,52.5 635.2,51.9 636.3,51.3 637.5,50.7 638.6,50.2 639.8,50.1 640.9,50.3 642.1,49.6 643.2,49.3 644.4,49.0 645.5,48.2 646.7,48.0 647.8,47.1 649.0,47.9 650.1,47.8 651.3,46.7 652.4,46.4 653.6,45.9 654.8,45.4 655.9,44.9 657.1,44.8 658.2,44.5 659.4,44.1 660.5,43.8 661.7,43.6 662.8,42.9 664.0,42.8 665.1,42.5 666.3,41.9 667.4,42.3 668.6,41.6 669.7,41.0 670.9,40.8 672.0,39.8 673.2,40.3" stroke="#800080" stroke-width="2.5" fill="none" stroke-linejoin="round" stroke-linecap="round" clip-path="url(#cb)"/>
<path d="M414.9,152.6L415.5,153.6 416.2,154.7 416.8,155.7 417.3,156.8 417.9,157.9 418.4,159.0 418.8,160.1 419.3,161.2 419.7,162.3 420.1,163.5 420.4,164.6 420.8,165.8 421.1,166.9 421.4,168.1 421.7,169.3 421.9,170.4 422.1,171.6 422.4,172.8 422.6,174.0 422.8,175.2 423.0,176.4 423.1,177.6 423.3,178.8 423.4,179.9 423.6,181.1 423.7,182.3 423.8,183.5 424.0,184.7 424.1,185.9 424.2,187.1 424.3,188.3 424.4,189.5 424.5,190.7 424.6,191.9 424.8,193.1 424.9,194.3 425.0,195.5 425.1,196.7 425.3,197.9 425.4,199.1 425.5,200.3 425.7,201.5 425.8,202.7 426.0,203.9 426.1,205.1 426.3,206.3 426.5,207.5 426.6,208.7 426.8,209.9 427.0,211.0 427.2,212.2 427.4,213.4 427.6,214.6 427.8,215.8 428.0,217.0 428.2,218.2 428.5,219.3 428.7,220.5 428.9,221.7 429.2,222.9 429.4,224.1 429.7,225.2 430.0,226.4 430.2,227.6 430.5,228.8 430.8,229.9 431.1,231.1 431.4,232.3 431.8,233.4 432.1,234.6 432.4,235.7 432.8,236.9 433.1,238.0 433.5,239.2 433.8,240.3 434.2,241.5 434.6,242.6 435.0,243.8 435.4,244.9 435.8,246.0 436.2,247.2 436.6,248.3 437.0,249.4 437.5,250.5 437.9,251.7 438.4,252.8 438.9,253.9 439.3,255.0 439.9,256.1 440.4,257.1 440.9,258.2 441.5,259.3 442.1,260.3 442.7,261.4 443.4,262.4 444.0,263.4 444.7,264.4 445.5,265.3 446.3,266.2 447.1,267.1 447.9,268.0 448.8,268.8 449.7,269.5 450.7,270.3 451.7,270.9 452.7,271.5 453.8,272.1 454.9,272.5 456.1,272.9 457.2,273.3 458.4,273.6 459.6,273.8 460.8,273.9 462.0,274.0 463.2,274.0 464.4,274.0 465.6,273.9 466.8,273.7 467.9,273.5 469.1,273.2 470.3,272.8 471.4,272.4 472.5,271.8 473.5,271.2 474.5,270.5 475.4,269.8 476.3,269.0 477.1,268.1 477.9,267.1 478.6,266.2 479.3,265.2 479.9,264.1 480.5,263.1 481.0,262.0 481.6,260.9 482.1,259.8 482.6,258.7 483.0,257.6 483.5,256.5 483.9,255.4 484.4,254.3 484.8,253.2 485.2,252.0 485.7,250.9 486.1,249.8 486.5,248.7 486.9,247.5 487.3,246.4 487.6,245.2 488.0,244.1 488.4,242.9 488.8,241.8 489.1,240.6 489.5,239.5 489.8,238.3 490.1,237.2 490.5,236.0 490.8,234.9 491.1,233.7 491.4,232.5 491.7,231.4 492.0,230.2 492.3,229.0 492.6,227.9 492.9,226.7 493.2,225.5 493.5,224.4 493.8,223.2 494.1,222.0 494.4,220.9 494.7,219.7 494.9,218.5 495.2,217.3 495.5,216.2 495.8,215.0 496.0,213.8 496.3,212.7 496.6,211.5 496.9,210.3 497.2,209.1 497.4,208.0 497.7,206.8 498.0,205.6 498.3,204.5 498.6,203.3 498.8,202.1 499.1,200.9 499.4,199.8 499.7,198.6 500.0,197.4 500.3,196.3 500.6,195.1 500.9,193.9 501.2,192.8 501.5,191.6 501.8,190.4 502.1,189.3 502.4,188.1 502.7,186.9 503.0,185.8 503.3,184.6 503.7,183.5 504.0,182.3 504.3,181.1 504.7,180.0 505.0,178.8 505.3,177.8 505.7,176.5 506.0,175.3 506.4,174.5 506.8,173.1 507.1,171.7 507.5,171.0 507.9,169.7 508.3,168.8 508.7,167.0 509.1,165.6 509.5,165.3 509.9,164.5 510.3,162.4 510.7,161.6 511.1,160.6 511.6,159.3 512.0,158.3 512.4,157.3 512.9,156.0 513.4,155.3 513.8,154.3 514.3,152.9 514.8,151.5 515.3,150.2 515.8,149.3 516.3,148.5 516.8,147.5 517.3,146.5 517.8,144.6 518.3,144.5 518.8,142.7 519.4,142.1 519.9,141.1 520.4,139.9 521.0,138.3 521.5,137.4 522.1,136.4 522.6,135.3 523.2,134.4 523.8,133.2 524.3,132.4 524.9,131.3 525.4,130.7 526.0,128.8 526.6,127.8 527.1,127.0 527.7,125.8 528.3,125.0 528.9,123.8 529.4,122.8 530.0,121.5 530.6,120.3 531.1,119.7 531.7,118.5 532.3,117.3 532.9,116.2 533.4,114.8 534.0,113.8 534.6,112.6 535.1,111.5 535.7,111.2 536.2,109.8 536.8,109.3 537.4,107.6 537.9,106.5 538.5,105.9 539.0,104.6 539.6,103.3 540.1,102.5 540.6,101.0 541.2,99.8 541.7,99.3 542.3,98.2 542.8,97.2 543.4,96.1 544.0,95.2 544.6,93.5 545.2,93.6 545.8,92.1 546.5,91.6 547.2,89.4 547.9,88.9 548.6,88.3 549.3,86.9 550.1,86.0 550.9,85.0 551.8,83.7 552.6,83.8 553.5,82.4 554.3,81.5 555.2,81.2 556.2,80.2 557.1,79.5 558.0,78.9 559.0,77.9 559.9,76.7 560.9,76.6 561.9,75.9 562.9,75.1 563.9,74.3 564.9,73.1 565.9,73.1 566.9,72.2 567.9,71.7 568.9,70.8 570.0,70.8 571.0,69.4 572.1,69.7 573.1,68.2 574.2,67.9 575.2,67.6 576.3,67.4 577.4,66.3 578.5,65.5 579.5,65.6 580.6,65.1 581.7,64.2 582.8,63.8 583.9,63.5 585.0,63.1 586.1,62.6 587.2,62.0 588.3,61.7 589.5,60.9 590.6,60.6 591.7,60.1 592.8,59.8 594.0,59.1 595.1,58.6 596.2,58.6 597.4,58.3 598.5,57.9 599.6,57.9 600.8,57.2 601.9,56.6 603.1,56.4 604.2,56.1 605.4,55.6 606.5,55.3 607.7,55.2 608.8,54.1 610.0,53.6 611.1,54.5 612.3,53.4 613.5,52.9 614.6,53.2 615.8,52.1 616.9,52.1 618.1,52.3 619.3,51.6 620.4,51.3 621.6,51.0 622.8,50.6 623.9,50.1 625.1,50.0 626.3,49.7 627.4,49.5 628.6,49.2 629.8,48.9 631.0,49.0 632.1,48.2 633.3,47.4 634.5,48.0 635.6,48.1 636.8,47.1 638.0,46.8 639.2,47.2 640.3,46.3 641.5,46.6 642.7,46.0 643.9,45.4 645.0,45.3 646.2,45.3 647.4,44.7 648.5,44.5 649.7,44.3 650.9,44.4 652.1,43.8 653.2,43.8 654.4,43.6 655.6,42.8 656.7,42.6 657.9,42.5 659.1,42.3 660.3,41.8 661.4,41.2 662.6,41.2 663.8,41.1 664.9,41.0 666.1,40.6 667.3,40.3 668.4,40.0 669.6,39.2 670.7,38.6 671.9,38.4 673.1,38.4" stroke="#2F4FFF" stroke-width="2.5" fill="none" stroke-linejoin="round" stroke-linecap="round" clip-path="url(#cb)"/>
<path d="M414.5,185.0L415.3,185.6 415.9,184.6 416.3,183.4 416.6,182.3 416.9,181.1 417.1,179.9 417.3,178.7 417.5,177.5 417.8,176.4 418.0,175.2 418.2,174.0 418.4,172.8 418.6,171.6 418.9,170.4 419.2,169.3 419.5,168.1 419.9,167.0 420.8,166.4 421.5,167.4 422.0,168.5 422.3,169.6 422.7,170.8 423.0,171.9 423.4,173.1 423.7,174.3 424.0,175.4 424.3,176.6 424.6,177.8 424.8,178.9 425.1,180.1 425.3,181.3 425.6,182.5 425.8,183.7 426.0,184.9 426.2,186.0 426.4,187.2 426.6,188.4 426.8,189.6 427.0,190.8 427.2,192.0 427.4,193.2 427.6,194.4 427.7,195.6 427.9,196.8 428.0,198.0 428.2,199.1 428.4,200.3 428.5,201.5 428.7,202.7 428.8,203.9 429.0,205.1 429.1,206.3 429.3,207.5 429.4,208.7 429.6,209.9 429.8,211.1 429.9,212.3 430.1,213.5 430.3,214.7 430.4,215.9 430.6,217.1 430.8,218.3 431.0,219.5 431.2,220.6 431.4,221.8 431.6,223.0 431.8,224.2 432.0,225.4 432.3,226.6 432.5,227.8 432.8,228.9 433.0,230.1 433.3,231.3 433.6,232.5 433.8,233.6 434.1,234.8 434.5,236.0 434.8,237.1 435.1,238.3 435.5,239.4 435.9,240.6 436.3,241.7 436.7,242.8 437.2,243.9 437.7,245.0 438.2,246.1 438.8,247.2 439.4,248.2 440.0,249.2 440.7,250.2 441.5,251.2 442.2,252.1 443.1,253.0 443.9,253.8 444.8,254.6 445.8,255.4 446.8,256.1 447.8,256.7 448.9,257.2 450.0,257.7 451.1,258.1 452.3,258.5 453.4,258.8 454.6,259.1 455.8,259.3 457.0,259.5 458.2,259.6 459.4,259.6 460.6,259.6 461.8,259.6 463.0,259.4 464.2,259.3 465.4,259.0 466.5,258.7 467.7,258.3 468.8,257.9 469.9,257.4 470.9,256.8 472.0,256.2 473.0,255.5 473.9,254.8 474.8,254.0 475.7,253.1 476.6,252.3 477.4,251.4 478.1,250.5 478.9,249.5 479.6,248.6 480.3,247.6 481.0,246.6 481.7,245.6 482.3,244.6 482.9,243.5 483.5,242.5 484.1,241.4 484.7,240.4 485.2,239.3 485.8,238.2 486.3,237.1 486.9,236.1 487.4,235.0 487.9,233.9 488.4,232.8 489.0,231.7 489.5,230.6 490.0,229.6 490.6,228.5 491.1,227.4 491.6,226.3 492.2,225.2 492.7,224.2 493.2,223.1 493.8,222.0 494.3,220.9 494.8,219.8 495.4,218.8 495.9,217.7 496.5,216.6 497.0,215.5 497.5,214.5 498.1,213.4 498.6,212.3 499.2,211.2 499.7,210.1 500.2,209.1 500.8,208.0 501.3,206.9 501.9,205.8 502.4,204.7 502.9,203.7 503.5,202.6 504.0,201.5 504.5,200.4 505.1,199.3 505.6,198.4 506.1,197.3 506.6,196.2 507.2,194.9 507.7,193.8 508.2,192.7 508.7,191.8 509.3,190.8 509.8,189.3 510.3,187.8 510.9,187.7 511.4,185.8 511.9,185.2 512.5,184.3 513.0,183.2 513.6,182.1 514.2,180.8 514.8,179.8 515.4,179.0 516.0,178.0 516.6,177.2 517.2,175.6 517.8,175.0 518.5,173.5 519.1,172.5 519.8,171.1 520.5,170.6 521.2,169.9 521.9,168.6 522.6,168.0 523.4,166.7 524.1,166.1 524.9,165.1 525.6,163.8 526.4,162.4 527.1,162.5 527.9,161.8 528.6,160.4 529.3,159.0 530.0,158.4 530.7,157.2 531.4,156.6 532.1,155.5 532.8,154.4 533.5,153.1 534.1,152.1 534.7,151.4 535.4,150.5 536.0,149.1 536.6,148.6 537.3,148.0 537.9,146.2 538.5,144.6 539.1,143.6 539.7,142.8 540.3,142.0 541.0,140.9 541.6,139.4 542.2,139.0 542.8,137.8 543.5,137.1 544.1,135.7 544.8,134.7 545.4,133.8 546.1,133.5 546.8,132.2 547.5,131.6 548.2,129.2 548.9,129.0 549.6,127.4 550.3,126.9 551.0,126.0 551.8,125.3 552.5,124.3 553.3,123.3 554.0,122.2 554.8,121.0 555.6,120.3 556.4,119.2 557.2,118.5 558.0,117.6 558.8,116.8 559.6,115.8 560.4,115.5 561.2,113.6 562.1,113.3 562.9,112.9 563.8,111.5 564.6,110.8 565.5,109.6 566.4,108.5 567.3,108.3 568.1,107.1 569.0,105.9 569.9,106.2 570.8,104.6 571.8,104.2 572.7,103.4 573.6,102.4 574.5,102.0 575.5,100.8 576.4,100.4 577.4,99.6 578.3,98.5 579.3,97.8 580.2,97.1 581.2,96.8 582.2,96.4 583.2,95.6 584.2,94.3 585.2,93.6 586.2,92.9 587.2,92.6 588.2,92.2 589.2,91.1 590.2,90.3 591.2,90.2 592.2,89.3 593.3,88.2 594.3,87.6 595.4,87.4 596.4,86.6 597.5,86.6 598.5,85.3 599.6,84.8 600.6,84.9 601.7,84.2 602.8,82.6 603.8,82.8 604.9,83.0 606.0,82.2 607.1,81.2 608.2,80.3 609.3,80.4 610.4,79.9 611.5,79.4 612.6,78.7 613.7,78.3 614.8,78.1 615.9,77.4 617.0,77.2 618.1,76.6 619.3,76.3 620.4,75.8 621.5,75.0 622.6,74.2 623.8,74.3 624.9,73.4 626.0,74.0 627.2,73.4 628.3,72.3 629.4,72.3 630.6,72.2 631.7,71.7 632.9,71.4 634.0,70.5 635.2,70.4 636.3,69.7 637.5,69.9 638.6,68.9 639.8,68.6 640.9,68.7 642.1,68.3 643.2,68.1 644.4,67.7 645.5,67.4 646.7,66.8 647.8,65.9 649.0,66.4 650.1,66.0 651.3,65.5 652.4,64.9 653.6,64.5 654.8,64.6 655.9,63.8 657.1,63.6 658.2,63.8 659.4,63.0 660.5,62.6 661.7,62.7 662.8,61.9 664.0,61.5 665.1,61.3 666.3,60.9 667.5,61.0 668.6,60.3 669.8,60.1 670.9,59.6 672.1,58.8 673.2,58.3" stroke="#FF8C1A" stroke-width="2.5" fill="none" stroke-linejoin="round" stroke-linecap="round" clip-path="url(#cb)"/>
<line x1="597.3" y1="168.3" x2="628.1" y2="168.3" stroke="#FF8C1A" stroke-width="2.5"/>
<text x="631.0" y="172.4" font-size="12.6" font-weight="bold">650°C</text>
<line x1="597.3" y1="184.6" x2="628.1" y2="184.6" stroke="#800080" stroke-width="2.5"/>
<text x="631.0" y="188.7" font-size="12.6" font-weight="bold">600°C</text>
<line x1="597.3" y1="201.0" x2="628.1" y2="201.0" stroke="#2F4FFF" stroke-width="2.5"/>
<text x="631.0" y="205.1" font-size="12.6" font-weight="bold">550°C</text>
<line x1="597.3" y1="217.5" x2="628.1" y2="217.5" stroke="#FF0000" stroke-width="2.5"/>
<text x="631.0" y="221.6" font-size="12.6" font-weight="bold">500°C</text>
<line x1="597.3" y1="233.9" x2="628.1" y2="233.9" stroke="#9C6428" stroke-width="2.5"/>
<text x="631.0" y="238.0" font-size="12.6" font-weight="bold">450°C</text>
<line x1="597.3" y1="250.2" x2="628.1" y2="250.2" stroke="#22C84A" stroke-width="2.5"/>
<text x="631.0" y="254.3" font-size="12.6" font-weight="bold">300°C</text>
<line x1="597.3" y1="266.4" x2="628.1" y2="266.4" stroke="#000000" stroke-width="2.5"/>
<text x="631.0" y="270.5" font-size="12.6" font-weight="bold">25°C</text>
<text x="544.1" y="59.3" font-size="21.5" font-weight="bold" text-anchor="middle">(b)</text>
<path d="M413.90,293.60V298.80M424.70,293.60V298.80M446.31,293.60V298.80M457.12,293.60V298.80M467.92,293.60V298.80M489.53,293.60V298.80M500.33,293.60V298.80M511.14,293.60V298.80M532.75,293.60V298.80M543.55,293.60V298.80M554.35,293.60V298.80M575.96,293.60V298.80M586.77,293.60V298.80M597.57,293.60V298.80M619.18,293.60V298.80M629.98,293.60V298.80M640.79,293.60V298.80M662.40,293.60V298.80M673.20,293.60V298.80M435.51,292.10V300.30M478.73,292.10V300.30M521.94,292.10V300.30M565.16,292.10V300.30M608.38,292.10V300.30M651.59,292.10V300.30M411.30,287.55H416.50M411.30,278.90H416.50M411.30,270.25H416.50M411.30,261.60H416.50M411.30,244.30H416.50M411.30,235.65H416.50M411.30,227.00H416.50M411.30,218.35H416.50M411.30,201.05H416.50M411.30,192.40H416.50M411.30,183.75H416.50M411.30,175.10H416.50M411.30,157.80H416.50M411.30,149.15H416.50M411.30,140.50H416.50M411.30,131.85H416.50M411.30,114.55H416.50M411.30,105.90H416.50M411.30,97.25H416.50M411.30,88.60H416.50M411.30,71.30H416.50M411.30,62.65H416.50M411.30,54.00H416.50M411.30,45.35H416.50M409.80,296.20H418.00M409.80,252.95H418.00M409.80,209.70H418.00M409.80,166.45H418.00M409.80,123.20H418.00M409.80,79.95H418.00M409.80,36.70H418.00" stroke="#000" stroke-width="1.8" fill="none"/>
<rect x="413.90" y="36.70" width="259.30" height="259.50" stroke="#000" stroke-width="2.1" fill="none"/>
<text x="423.83" y="314.80" font-size="14">400</text>
<text x="467.05" y="314.80" font-size="14">600</text>
<text x="510.26" y="314.80" font-size="14">800</text>
<text x="549.59" y="314.80" font-size="14"> 000</text>
<path transform="translate(549.59,314.80) scale(0.00684,-0.00654)" d="M763 0H583V1147Q518 1085 412.5 1023T223 930V1104Q373 1175 485.5 1276T645 1472H763V0Z" fill="#111" stroke="#111" stroke-width="0.25" vector-effect="non-scaling-stroke"/>
<text x="592.80" y="314.80" font-size="14"> 200</text>
<path transform="translate(592.80,314.80) scale(0.00684,-0.00654)" d="M763 0H583V1147Q518 1085 412.5 1023T223 930V1104Q373 1175 485.5 1276T645 1472H763V0Z" fill="#111" stroke="#111" stroke-width="0.25" vector-effect="non-scaling-stroke"/>
<text x="636.02" y="314.80" font-size="14"> 400</text>
<path transform="translate(636.02,314.80) scale(0.00684,-0.00654)" d="M763 0H583V1147Q518 1085 412.5 1023T223 930V1104Q373 1175 485.5 1276T645 1472H763V0Z" fill="#111" stroke="#111" stroke-width="0.25" vector-effect="non-scaling-stroke"/>
<text x="398.61" y="300.40" font-size="14">0</text>
<text x="390.83" y="257.15" font-size="14"> 0</text>
<path transform="translate(390.83,257.15) scale(0.00684,-0.00654)" d="M763 0H583V1147Q518 1085 412.5 1023T223 930V1104Q373 1175 485.5 1276T645 1472H763V0Z" fill="#111" stroke="#111" stroke-width="0.25" vector-effect="non-scaling-stroke"/>
<text x="390.83" y="213.90" font-size="14">20</text>
<text x="390.83" y="170.65" font-size="14">30</text>
<text x="390.83" y="127.40" font-size="14">40</text>
<text x="390.83" y="84.15" font-size="14">50</text>
<text x="390.83" y="40.90" font-size="14">60</text>
<text transform="translate(378.3,159.7) rotate(-90)" text-anchor="middle" font-size="16.8">Reflectance (%)</text>
<text x="470.4" y="336.2" font-size="17">Wavelenght,</text>
<path transform="translate(569.40,324.50)" d="M0.6,1.6 C0.9,0.4 2.4,-0.2 3.3,1.0 C3.9,2.0 4.4,4.5 5.0,7.0 C5.6,9.5 6.2,11.3 7.2,11.3 C7.9,11.3 8.3,10.8 8.6,10.2 M4.0,4.2 L0.5,11.6" stroke="#1a1a1a" stroke-width="1.35" fill="none" stroke-linecap="round"/>
<text x="583.3" y="336.2" font-size="17">(nm)</text>
<rect x="73.7" y="377.0" width="259.6" height="259.4" fill="url(#gc)"/>
<path d="M73.8,579.8L74.0,578.6 74.2,577.4 74.4,576.2 74.5,575.0 74.7,573.8 74.9,572.6 75.0,571.4 75.2,570.2 75.4,569.0 75.6,567.9 75.8,566.7 76.0,565.5 76.2,564.3 76.4,563.1 76.6,561.9 76.9,560.7 77.1,559.5 77.4,558.4 77.7,557.2 78.0,556.0 78.3,554.8 78.7,553.7 79.1,552.5 79.5,551.4 79.9,550.3 80.3,549.1 80.8,548.0 81.3,546.9 81.9,545.8 82.4,544.8 83.1,543.7 83.7,542.7 84.4,541.7 85.2,540.8 86.0,539.9 86.8,539.0 87.7,538.2 88.7,537.5 89.7,536.8 90.7,536.2 91.8,535.6 92.9,535.2 94.1,534.8 95.2,534.4 96.4,534.2 97.6,533.9 98.8,533.7 100.0,533.5 101.2,533.3 102.3,533.1 103.5,532.8 104.7,532.6 105.9,532.3 107.0,531.9 108.2,531.5 109.3,531.0 110.4,530.5 111.5,529.9 112.5,529.3 113.5,528.7 114.5,528.0 115.5,527.3 116.4,526.5 117.4,525.8 118.3,525.0 119.3,524.2 120.2,523.4 121.1,522.7 122.0,521.8 122.9,521.0 123.8,520.2 124.7,519.4 125.5,518.5 126.4,517.7 127.2,516.8 128.1,516.0 128.9,515.1 129.8,514.2 130.6,513.4 131.4,512.5 132.3,511.6 133.1,510.7 133.9,509.8 134.7,508.9 135.5,508.0 136.3,507.1 137.1,506.2 137.9,505.3 138.7,504.3 139.5,503.4 140.2,502.5 141.0,501.6 141.8,500.7 142.6,499.7 143.4,498.8 144.2,497.9 144.9,497.0 145.7,496.0 146.5,495.1 147.3,494.2 148.1,493.3 148.8,492.3 149.6,491.4 150.4,490.5 151.2,489.6 152.0,488.7 152.8,487.8 153.6,486.9 154.4,485.9 155.2,485.0 156.0,484.1 156.8,483.3 157.7,482.4 158.5,481.5 159.3,480.6 160.1,479.7 161.0,478.9 161.8,478.0 162.7,477.1 163.6,476.3 164.4,475.4 165.3,474.6 166.2,473.8 167.1,473.0 168.0,472.2 168.9,471.4 169.8,470.6 170.7,469.8 171.7,469.0 172.6,468.3 173.5,467.5 174.5,466.8 175.5,466.1 176.5,465.3 177.4,464.6 178.4,464.0 179.5,463.3 180.5,462.3 181.5,461.8 182.5,461.7 183.6,460.3 L184.8,460.7 186.0,460.5 187.2,460.5 188.4,460.6 189.6,460.2 190.8,459.5 192.0,459.9 193.2,459.5 194.4,459.6 195.6,458.9 196.8,458.7 198.0,459.0 199.2,458.5 200.4,459.0 201.6,458.7 202.9,459.0 204.1,458.7 205.3,458.6 206.5,457.9 207.7,457.9 208.9,458.3 210.1,458.7 211.4,458.5 212.6,458.4 213.8,458.1 215.0,458.1 216.2,458.6 217.4,458.4 218.6,458.2 219.8,458.9 221.1,459.3 222.3,458.8 223.5,458.7 224.7,459.2 225.9,458.7 227.1,459.6 228.3,459.7 229.5,459.5 230.7,459.2 231.9,459.3 233.1,460.3 234.3,460.1 235.5,460.8 236.7,460.8 237.9,460.7 239.0,461.0 240.2,461.5 241.4,462.3 242.6,462.2 243.8,462.9 244.9,462.7 246.1,463.5 247.2,463.4 248.4,463.5 249.6,464.3 250.7,464.7 251.9,465.0 253.0,465.8 254.1,466.4 255.3,467.0 256.4,466.8 257.5,467.2 258.7,467.8 259.8,468.0 260.9,468.5 262.0,469.0 263.2,469.3 264.3,470.1 265.4,470.7 266.5,471.2 267.6,471.2 268.7,472.3 269.9,472.4 271.0,472.6 272.1,473.4 273.2,474.0 274.3,474.6 275.4,474.7 276.5,475.4 277.6,475.8 278.7,476.4 279.8,476.7 280.9,477.4 282.0,477.7 283.1,478.5 284.2,478.8 285.3,480.0 286.4,480.3 287.5,480.5 288.6,480.9 289.7,481.3 290.9,482.3 292.0,482.4 293.1,482.3 294.2,483.6 295.3,483.8 296.4,484.5 297.5,485.0 298.6,485.7 299.7,485.3 300.8,485.3 301.9,486.8 303.0,488.4 304.1,490.1 305.2,489.4 306.3,489.4 307.4,489.9 308.5,490.2 309.6,491.0 310.6,490.9 311.7,491.8 312.8,492.3 313.9,492.7 315.0,493.4 316.1,493.6 317.2,494.6 318.3,495.0 319.4,496.3 320.4,496.0 321.5,497.0 322.6,497.2 323.7,498.3 324.8,498.1 325.8,499.4 326.9,499.0 328.0,500.2 329.0,500.7 330.1,501.4 331.2,501.3 332.2,502.4 333.3,503.4" stroke="#FF0000" stroke-width="2.25" fill="none" stroke-linejoin="round" stroke-linecap="round" clip-path="url(#cc)"/>
<path d="M73.7,587.0L74.0,585.8 74.3,584.6 74.6,583.4 74.9,582.3 75.3,581.1 75.6,579.9 75.9,578.8 76.3,577.6 76.6,576.4 77.0,575.3 77.4,574.1 77.7,573.0 78.1,571.8 78.5,570.7 78.8,569.5 79.2,568.3 79.6,567.2 80.0,566.0 80.3,564.9 80.7,563.7 81.1,562.6 81.5,561.4 81.8,560.2 82.2,559.1 82.6,557.9 83.0,556.8 83.4,555.7 83.9,554.5 84.3,553.4 84.8,552.3 85.3,551.2 85.8,550.0 86.3,549.0 86.9,547.9 87.5,546.8 88.1,545.8 88.8,544.8 89.5,543.8 90.2,542.8 91.0,541.9 91.9,541.1 92.8,540.2 93.7,539.5 94.7,538.8 95.8,538.2 96.9,537.6 98.0,537.1 99.1,536.6 100.2,536.2 101.4,535.8 102.5,535.4 103.7,535.1 104.8,534.7 106.0,534.3 107.2,533.9 108.3,533.5 109.4,533.1 110.6,532.6 111.7,532.1 112.7,531.5 113.8,530.9 114.8,530.3 115.8,529.6 116.8,528.8 117.7,528.1 118.6,527.3 119.5,526.5 120.4,525.6 121.2,524.8 122.1,523.9 122.9,523.0 123.7,522.1 124.5,521.1 125.3,520.2 126.0,519.3 126.8,518.3 127.5,517.3 128.3,516.4 129.0,515.4 129.7,514.4 130.4,513.4 131.1,512.4 131.8,511.4 132.5,510.4 133.1,509.4 133.8,508.4 134.4,507.4 135.1,506.3 135.7,505.3 136.4,504.2 137.0,503.2 137.6,502.2 138.2,501.1 138.8,500.1 139.4,499.0 140.0,498.0 140.6,496.9 141.2,495.8 141.8,494.8 142.4,493.7 143.0,492.6 143.6,491.6 144.2,490.5 144.8,489.5 145.3,488.4 145.9,487.3 146.5,486.3 147.1,485.2 147.7,484.1 148.3,483.1 148.9,482.0 149.5,481.0 150.1,479.9 150.7,478.9 151.3,477.8 151.9,476.8 152.6,475.7 153.2,474.7 153.8,473.6 154.5,472.6 155.1,471.6 155.8,470.6 156.5,469.6 157.1,468.6 157.8,467.6 158.5,466.6 159.3,465.6 160.0,464.6 160.7,463.7 161.5,462.7 162.3,461.8 163.1,460.9 163.9,459.9 164.7,459.1 165.5,458.2 166.4,457.3 167.3,456.5 168.2,455.6 169.1,454.8 170.0,454.1 170.9,453.3 171.9,452.5 172.9,451.8 173.9,451.1 174.9,450.5 175.9,449.8 177.0,449.2 178.1,448.6 179.1,448.1 180.2,447.2 181.3,447.2 182.5,446.4 183.6,446.0 184.8,445.9 185.9,445.7 L186.9,446.0 188.1,446.5 189.3,446.3 190.5,445.9 191.7,447.1 192.9,446.7 194.1,446.8 195.3,446.7 196.5,447.3 197.7,447.6 198.9,447.8 200.1,448.1 201.2,448.1 202.4,448.5 203.6,448.9 204.8,449.1 206.0,448.7 207.2,449.5 208.3,449.2 209.5,450.3 210.7,450.2 211.9,450.0 213.0,450.7 214.2,450.9 215.4,451.2 216.6,451.4 217.7,452.0 218.9,452.1 220.0,452.9 221.2,453.2 222.4,453.3 223.5,454.1 224.7,453.8 225.8,454.2 227.0,455.0 228.1,455.4 229.2,455.6 230.4,456.1 231.5,456.9 232.6,457.3 233.8,457.4 234.9,458.2 236.0,458.3 237.1,458.9 238.2,458.7 239.3,459.8 240.4,460.7 241.5,460.0 242.6,461.7 243.7,461.7 244.8,461.9 245.9,463.2 247.0,463.5 248.1,464.2 249.1,464.8 250.2,465.0 251.3,465.2 252.3,466.1 253.4,467.0 254.5,467.5 255.5,468.0 256.6,468.4 257.6,469.0 258.7,469.6 259.7,470.0 260.8,471.2 261.8,471.6 262.8,471.7 263.9,472.6 264.9,472.7 266.0,473.6 267.0,473.7 268.0,474.9 269.1,476.2 270.1,476.2 271.1,477.4 272.2,477.5 273.2,477.7 274.2,478.9 275.3,479.4 276.3,479.7 277.3,481.0 278.4,481.2 279.4,481.9 280.4,482.4 281.5,483.4 282.5,484.3 283.5,484.8 284.6,485.4 285.6,486.1 286.6,486.8 287.7,488.1 288.7,487.9 289.7,488.1 290.8,488.6 291.8,489.6 292.9,489.8 293.9,490.8 294.9,491.7 296.0,492.1 297.0,493.0 298.0,493.3 299.1,493.7 300.1,493.1 301.2,494.3 302.2,496.0 303.2,497.7 304.3,498.3 305.3,498.4 306.4,498.6 307.4,498.9 308.4,499.3 309.5,500.2 310.5,501.1 311.6,501.1 312.6,502.3 313.6,502.6 314.7,503.0 315.7,504.2 316.8,504.6 317.8,504.9 318.8,505.4 319.9,506.5 320.9,506.8 321.9,507.4 323.0,508.1 324.0,508.3 325.1,509.2 326.1,510.5 327.1,510.8 328.2,511.1 329.2,511.7 330.2,512.7 331.3,512.8 332.3,513.4 333.3,514.1" stroke="#9C6428" stroke-width="2.25" fill="none" stroke-linejoin="round" stroke-linecap="round" clip-path="url(#cc)"/>
<path d="M73.8,597.5L74.2,596.4 74.6,595.2 75.0,594.1 75.5,592.9 75.9,591.8 76.4,590.7 76.9,589.6 77.4,588.5 78.0,587.4 78.5,586.3 79.1,585.3 79.8,584.2 80.4,583.2 81.1,582.2 81.9,581.2 82.6,580.3 83.4,579.4 84.3,578.5 85.1,577.7 86.1,576.9 87.0,576.1 88.0,575.4 89.1,574.8 90.2,574.3 91.3,573.8 92.5,573.4 93.6,573.1 94.8,572.9 96.0,572.7 97.2,572.5 98.4,572.4 99.7,572.3 100.9,572.3 102.1,572.2 103.3,572.2 104.5,572.1 105.7,572.0 107.0,572.0 108.2,571.9 109.4,571.7 110.6,571.6 111.8,571.4 113.0,571.2 114.2,571.0 115.4,570.7 116.6,570.5 117.7,570.2 118.9,569.8 120.1,569.4 121.2,569.0 122.4,568.6 123.5,568.2 124.6,567.7 125.7,567.2 126.8,566.7 127.9,566.1 129.0,565.6 130.1,565.0 131.1,564.4 132.2,563.8 133.3,563.2 134.3,562.6 135.4,562.0 136.4,561.4 137.5,560.8 138.5,560.2 139.6,559.5 140.6,558.9 141.6,558.3 142.7,557.7 143.7,557.0 144.8,556.4 145.9,555.8 146.9,555.2 148.0,554.7 149.1,554.1 150.2,553.5 151.2,553.0 152.3,552.5 153.5,552.0 154.6,551.5 155.7,551.0 156.8,550.6 158.0,550.2 159.1,549.8 160.3,549.5 161.5,549.2 162.7,548.9 163.9,548.6 165.1,548.4 166.2,548.2 167.5,548.0 168.7,547.8 169.9,547.6 171.1,547.5 172.3,547.3 173.5,547.2 174.7,547.1 175.9,547.0 177.1,546.8 178.3,546.7 179.5,546.6 180.8,546.5 182.0,546.5 183.2,546.2 184.4,545.6 L185.5,546.7 186.7,546.7 187.9,547.6 189.1,547.7 190.2,547.6 191.4,548.1 192.6,548.4 193.8,548.7 195.0,549.2 196.2,549.4 197.4,549.7 198.6,549.6 199.8,550.0 200.9,550.9 202.1,550.9 203.3,550.4 204.5,551.1 205.7,551.1 206.9,551.5 208.1,551.9 209.3,551.7 210.5,552.9 211.7,552.9 212.9,552.4 214.1,553.0 215.3,553.1 216.5,553.5 217.7,553.7 218.9,553.9 220.0,554.4 221.2,554.9 222.4,554.7 223.6,554.4 224.8,555.5 226.0,555.1 227.2,555.9 228.4,556.0 229.6,556.2 230.8,555.8 232.0,556.5 233.2,557.1 234.4,557.3 235.6,557.6 236.8,557.6 238.0,557.8 239.2,558.0 240.4,557.7 241.6,558.2 242.8,558.4 244.0,559.2 245.2,559.2 246.4,559.0 247.6,559.7 248.7,559.9 249.9,560.3 251.1,560.4 252.3,560.8 253.5,560.6 254.7,560.8 255.9,561.1 257.1,561.6 258.3,561.1 259.5,561.9 260.7,562.0 261.9,562.3 263.1,563.0 264.3,562.8 265.5,563.4 266.7,563.9 267.9,563.7 269.1,564.3 270.3,563.6 271.5,564.3 272.7,564.5 273.9,564.9 275.0,564.7 276.2,565.7 277.4,565.8 278.6,565.7 279.8,565.6 281.0,566.3 282.2,566.7 283.4,566.9 284.6,566.9 285.8,567.9 287.0,567.5 288.2,567.7 289.4,568.4 290.6,568.3 291.8,568.4 292.9,568.0 294.1,569.0 295.3,569.3 296.5,569.6 297.7,569.7 298.9,570.3 300.1,569.3 301.3,569.4 302.5,571.8 303.7,573.1 304.8,572.9 306.0,571.8 307.2,572.0 308.4,572.4 309.6,573.0 310.8,572.9 312.0,573.4 313.2,573.3 314.3,573.8 315.5,574.1 316.7,574.4 317.9,574.7 319.1,574.6 320.3,575.2 321.5,574.8 322.6,575.5 323.8,576.0 325.0,576.3 326.2,576.7 327.4,576.7 328.5,576.8 329.7,577.3 330.9,577.5 332.1,578.4 333.3,578.8" stroke="#FF8C1A" stroke-width="2.25" fill="none" stroke-linejoin="round" stroke-linecap="round" clip-path="url(#cc)"/>
<path d="M73.7,581.1L74.3,580.0 74.9,579.0 75.4,577.8 75.8,576.7 76.2,575.6 76.6,574.4 76.9,573.3 77.3,572.1 77.6,570.9 77.9,569.8 78.2,568.6 78.5,567.4 78.8,566.2 79.2,565.1 79.5,563.9 79.9,562.8 80.2,561.6 80.6,560.5 81.0,559.3 81.5,558.2 82.0,557.1 82.5,556.0 83.1,554.9 83.7,553.9 84.4,552.9 85.2,552.0 86.1,551.1 87.0,550.4 88.0,549.7 89.1,549.1 90.2,548.5 91.3,548.1 92.4,547.7 93.6,547.3 94.8,547.0 95.9,546.8 97.1,546.6 98.3,546.4 99.5,546.3 100.8,546.2 102.0,546.1 103.2,546.0 104.4,546.0 105.6,545.9 106.8,545.9 108.0,545.8 109.2,545.7 110.4,545.5 111.6,545.4 112.8,545.1 114.0,544.8 115.1,544.4 116.3,544.0 117.3,543.5 118.4,542.8 119.4,542.2 120.4,541.4 121.3,540.7 122.2,539.9 123.1,539.1 124.0,538.2 124.9,537.4 125.7,536.5 126.6,535.7 127.4,534.8 128.3,533.9 129.1,533.0 129.9,532.1 130.7,531.2 131.5,530.3 132.3,529.4 133.1,528.5 133.9,527.6 134.7,526.7 135.5,525.8 136.3,524.8 137.1,523.9 137.8,523.0 138.6,522.0 139.4,521.1 140.1,520.2 140.9,519.2 141.7,518.3 142.4,517.3 143.2,516.4 143.9,515.4 144.7,514.5 145.4,513.5 146.2,512.6 147.0,511.6 147.7,510.7 148.5,509.7 149.2,508.8 150.0,507.9 150.7,506.9 151.5,506.0 152.3,505.0 153.1,504.1 153.8,503.2 154.6,502.2 155.4,501.3 156.2,500.4 157.0,499.5 157.8,498.6 158.6,497.7 159.4,496.8 160.2,495.9 161.0,495.0 161.8,494.1 162.7,493.2 163.5,492.3 164.4,491.5 165.2,490.6 166.1,489.8 167.0,488.9 167.9,488.1 168.8,487.3 169.7,486.5 170.6,485.7 171.5,484.9 172.4,484.1 173.4,483.3 174.3,482.6 175.3,481.8 176.2,481.1 177.2,480.4 178.2,479.7 179.2,479.0 180.2,478.0 181.2,477.5 182.3,477.3 183.3,476.0 184.3,475.8 185.4,475.4 L186.6,474.6 187.7,475.9 188.9,476.1 190.1,476.6 191.2,476.6 192.4,477.1 193.6,477.4 194.8,477.1 196.0,477.7 197.2,477.6 198.4,478.0 199.6,477.8 200.8,478.0 202.1,477.6 203.3,478.0 204.5,478.4 205.7,478.0 206.9,478.3 208.1,478.2 209.3,479.0 210.5,478.7 211.7,478.9 212.9,478.9 214.1,478.8 215.3,479.1 216.5,479.8 217.7,479.6 218.9,480.0 220.1,480.1 221.2,480.6 222.4,480.2 223.6,481.0 224.8,480.9 225.9,481.1 227.1,481.2 228.2,482.2 229.4,482.8 230.6,482.7 231.7,483.2 232.9,483.5 234.0,483.7 235.1,484.4 236.3,484.7 237.4,485.3 238.5,486.1 239.7,486.2 240.8,486.9 241.9,486.9 243.0,488.0 244.2,487.7 245.3,488.2 246.4,489.0 247.5,488.9 248.6,490.5 249.7,490.4 250.8,490.9 251.9,491.3 253.0,491.9 254.1,492.5 255.2,492.7 256.2,492.9 257.3,494.4 258.4,494.3 259.5,495.2 260.6,495.8 261.6,496.3 262.7,497.0 263.8,497.8 264.8,498.5 265.9,498.7 267.0,499.3 268.0,499.2 269.1,500.6 270.1,500.7 271.2,501.9 272.2,502.3 273.3,503.0 274.3,503.7 275.4,503.8 276.4,504.3 277.4,505.1 278.5,505.7 279.5,506.6 280.5,506.6 281.6,507.6 282.6,507.8 283.6,509.0 284.7,509.7 285.7,509.7 286.7,511.0 287.7,511.0 288.8,512.3 289.8,512.7 290.8,513.6 291.8,513.7 292.8,515.2 293.8,515.4 294.9,515.8 295.9,516.4 296.9,517.4 297.9,518.1 298.9,519.2 299.9,518.4 300.9,518.8 301.9,520.0 302.9,522.2 304.0,524.1 305.0,523.1 306.0,523.9 307.0,523.9 308.0,524.9 309.0,525.1 310.0,526.0 311.0,526.8 312.0,527.2 313.0,528.3 314.0,528.8 315.0,529.1 316.1,530.0 317.1,530.2 318.1,532.1 319.1,532.1 320.1,532.6 321.1,533.0 322.1,534.2 323.1,535.3 324.1,535.5 325.2,536.0 326.2,536.5 327.2,537.1 328.2,538.0 329.2,538.4 330.3,539.2 331.3,540.0 332.3,540.2 333.3,541.1" stroke="#800080" stroke-width="2.25" fill="none" stroke-linejoin="round" stroke-linecap="round" clip-path="url(#cc)"/>
<path d="M73.6,577.8L74.0,576.7 74.4,575.5 74.7,574.4 75.0,573.2 75.2,572.0 75.5,570.8 75.7,569.6 76.0,568.4 76.2,567.2 76.4,566.0 76.7,564.8 76.9,563.6 77.1,562.4 77.3,561.2 77.6,560.0 77.9,558.9 78.1,557.7 78.4,556.5 78.8,555.3 79.1,554.2 79.5,553.0 79.9,551.8 80.3,550.7 80.8,549.6 81.3,548.5 81.8,547.4 82.4,546.3 83.0,545.3 83.7,544.2 84.4,543.3 85.1,542.3 85.9,541.4 86.8,540.5 87.7,539.7 88.7,539.0 89.7,538.4 90.8,537.8 91.9,537.3 93.1,537.0 94.3,536.8 95.5,536.6 96.7,536.6 97.9,536.7 99.2,536.8 100.4,537.0 101.6,537.1 102.8,537.3 104.0,537.5 105.2,537.7 106.4,537.8 107.6,537.9 108.8,538.0 110.0,537.9 111.2,537.8 112.4,537.5 113.6,537.2 114.7,536.7 115.8,536.2 116.9,535.6 117.9,534.9 118.9,534.3 119.9,533.6 120.9,532.8 121.9,532.1 122.8,531.4 123.8,530.6 124.8,529.9 125.7,529.1 126.7,528.4 127.6,527.6 128.5,526.8 129.4,526.0 130.4,525.2 131.3,524.4 132.2,523.6 133.1,522.7 134.0,521.9 134.8,521.1 135.7,520.2 136.6,519.4 137.4,518.5 138.3,517.6 139.1,516.8 140.0,515.9 140.8,515.0 141.6,514.1 142.5,513.2 143.3,512.3 144.1,511.4 144.9,510.5 145.7,509.6 146.5,508.6 147.3,507.7 148.0,506.8 148.8,505.8 149.6,504.9 150.3,503.9 151.1,503.0 151.8,502.0 152.6,501.1 153.3,500.1 154.1,499.1 154.8,498.2 155.5,497.2 156.3,496.2 157.0,495.3 157.8,494.3 158.5,493.3 159.3,492.4 160.0,491.4 160.8,490.4 161.5,489.5 162.3,488.5 163.0,487.6 163.8,486.7 164.6,485.7 165.4,484.8 166.2,483.9 167.0,483.0 167.8,482.1 168.7,481.2 169.5,480.3 170.4,479.5 171.3,478.6 172.2,477.8 173.1,477.0 174.0,476.2 174.9,475.4 175.9,474.7 176.8,473.9 177.8,473.2 178.8,472.5 179.8,471.8 180.8,471.8 181.9,471.4 182.9,470.0 184.0,469.6 185.1,468.6 186.2,468.6 L187.2,468.7 188.4,468.7 189.6,467.4 190.8,467.3 192.0,467.3 193.2,467.6 194.4,467.2 195.6,466.8 196.8,466.2 198.0,466.7 199.2,467.3 200.4,466.2 201.6,466.3 202.8,466.4 204.0,467.0 205.2,466.5 206.4,466.5 207.7,467.5 208.9,466.7 210.1,467.4 211.3,467.4 212.5,467.8 213.7,468.1 214.8,468.4 216.0,468.1 217.2,468.4 218.4,469.1 219.6,468.8 220.7,468.9 221.9,470.1 223.1,469.9 224.2,470.2 225.4,470.5 226.5,471.4 227.7,471.6 228.8,471.8 230.0,472.3 231.1,473.3 232.2,473.4 233.3,473.6 234.5,474.2 235.6,474.7 236.7,475.6 237.8,476.1 238.9,476.6 240.0,476.2 241.0,477.6 242.1,477.8 243.2,478.0 244.3,478.6 245.3,479.8 246.4,480.0 247.5,480.5 248.5,481.4 249.6,481.7 250.6,482.3 251.7,483.2 252.7,483.7 253.7,484.3 254.8,485.4 255.8,485.2 256.8,486.0 257.8,487.2 258.8,487.5 259.9,488.5 260.9,488.7 261.9,489.2 262.9,490.1 263.9,490.6 264.9,491.4 265.9,492.3 266.9,492.7 267.9,493.8 268.8,493.9 269.8,495.2 270.8,495.8 271.8,496.7 272.8,497.1 273.8,497.6 274.7,498.5 275.7,499.8 276.7,499.7 277.7,501.2 278.6,501.2 279.6,502.3 280.6,502.9 281.6,503.5 282.5,504.1 283.5,504.8 284.5,506.0 285.4,506.1 286.4,507.2 287.4,507.6 288.4,509.1 289.3,509.5 290.3,510.0 291.3,510.6 292.3,511.1 293.2,512.6 294.2,512.7 295.2,513.4 296.1,514.5 297.1,514.9 298.1,516.4 299.1,516.8 300.1,516.5 301.0,516.9 302.0,518.1 303.0,520.2 304.0,521.9 305.0,521.8 305.9,522.1 306.9,522.8 307.9,522.9 308.9,524.1 309.9,524.1 310.9,524.4 311.9,525.8 312.9,526.7 313.9,527.5 314.9,527.9 315.9,528.1 316.9,528.6 317.9,529.6 318.9,530.0 319.9,530.9 320.9,531.4 322.0,532.1 323.0,532.7 324.0,533.5 325.0,534.4 326.0,534.9 327.1,535.6 328.1,536.4 329.1,537.2 330.2,537.6 331.2,538.3 332.3,538.8 333.3,539.6" stroke="#2F4FFF" stroke-width="2.25" fill="none" stroke-linejoin="round" stroke-linecap="round" clip-path="url(#cc)"/>
<path d="M73.7,603.7L74.1,602.5 74.4,601.3 74.8,600.2 75.2,599.0 75.7,597.9 76.1,596.8 76.6,595.7 77.1,594.6 77.7,593.5 78.3,592.4 78.8,591.4 79.5,590.3 80.1,589.3 80.7,588.3 81.4,587.2 82.1,586.3 82.8,585.3 83.5,584.3 84.3,583.3 85.1,582.4 85.8,581.5 86.6,580.5 87.4,579.6 88.2,578.7 89.1,577.8 89.9,576.9 90.7,576.1 91.6,575.2 92.5,574.4 93.3,573.5 94.2,572.7 95.1,571.8 96.0,571.0 96.9,570.2 97.8,569.4 98.7,568.6 99.6,567.8 100.5,567.0 101.4,566.2 102.4,565.4 103.3,564.6 104.2,563.8 105.1,563.0 106.1,562.3 107.0,561.5 107.9,560.7 108.8,559.9 109.8,559.1 110.7,558.3 111.6,557.5 112.5,556.7 113.5,555.9 114.4,555.1 115.3,554.3 116.2,553.5 117.1,552.7 118.0,551.9 118.9,551.0 119.7,550.2 120.6,549.4 121.5,548.5 122.3,547.7 123.2,546.8 124.1,545.9 124.9,545.1 125.8,544.2 126.6,543.3 127.4,542.4 128.3,541.6 129.1,540.7 129.9,539.8 130.8,538.9 131.6,538.0 132.4,537.1 133.3,536.3 134.1,535.4 134.9,534.5 135.8,533.6 136.6,532.7 137.4,531.8 138.3,531.0 139.1,530.1 140.0,529.2 140.8,528.4 141.7,527.5 142.5,526.6 143.4,525.8 144.3,524.9 145.1,524.1 146.0,523.2 146.9,522.4 147.8,521.6 148.7,520.8 149.6,520.0 150.5,519.2 151.4,518.4 152.3,517.6 153.3,516.8 154.2,516.0 155.2,515.3 156.1,514.6 157.1,513.8 158.1,513.1 159.1,512.4 160.1,511.7 161.1,511.1 162.1,510.4 163.2,509.8 164.2,509.1 165.3,508.5 166.3,508.0 167.4,507.4 168.5,506.8 169.6,506.3 170.7,505.8 171.8,505.3 172.9,504.9 174.1,504.4 175.2,504.0 176.3,503.6 177.5,503.3 178.7,502.9 179.8,502.6 181.0,502.5 182.2,502.4 183.4,501.9 184.6,501.4 185.8,501.5 187.0,501.2 188.2,501.0 L189.2,501.0 190.4,500.9 191.6,501.6 192.8,501.9 194.0,501.9 195.2,501.6 196.4,502.5 197.6,502.7 198.7,503.1 199.9,503.5 201.1,504.1 202.3,504.2 203.5,503.8 204.7,504.3 205.9,505.0 207.0,505.0 208.2,504.9 209.4,505.2 210.6,505.3 211.8,505.9 212.9,506.2 214.1,506.9 215.3,506.5 216.5,506.5 217.6,507.3 218.8,507.4 220.0,508.6 221.1,509.1 222.3,508.8 223.5,508.8 224.7,509.5 225.8,510.2 227.0,509.8 228.2,510.3 229.3,510.8 230.5,510.6 231.7,511.7 232.8,511.6 234.0,512.1 235.1,511.9 236.3,512.6 237.5,512.8 238.6,513.7 239.8,513.4 240.9,513.9 242.1,514.4 243.3,514.8 244.4,515.4 245.6,515.7 246.7,515.1 247.9,516.3 249.0,516.3 250.2,517.5 251.3,517.3 252.5,518.1 253.6,518.1 254.8,518.7 255.9,519.3 257.1,519.7 258.2,519.5 259.3,520.0 260.5,520.7 261.6,520.8 262.8,521.7 263.9,521.3 265.1,522.1 266.2,522.5 267.3,523.2 268.5,523.8 269.6,523.9 270.7,524.1 271.9,525.1 273.0,525.1 274.2,525.7 275.3,526.0 276.4,526.4 277.5,526.6 278.7,527.8 279.8,527.8 280.9,528.5 282.1,528.5 283.2,529.5 284.3,529.2 285.5,529.8 286.6,530.6 287.7,530.9 288.8,531.8 290.0,531.6 291.1,532.3 292.2,532.8 293.3,533.1 294.4,533.5 295.6,534.3 296.7,534.7 297.8,534.9 298.9,535.7 300.0,534.6 301.2,535.6 302.3,536.8 303.4,539.2 304.5,539.6 305.6,539.0 306.7,539.5 307.8,539.7 309.0,539.8 310.1,540.3 311.2,540.7 312.3,541.5 313.4,541.8 314.5,542.5 315.6,542.8 316.7,542.8 317.8,543.5 319.0,544.4 320.1,544.4 321.2,544.7 322.3,545.4 323.4,546.0 324.5,546.6 325.6,547.5 326.7,547.9 327.8,548.1 328.9,548.6 330.0,549.5 331.1,549.5 332.2,550.1 333.3,551.1" stroke="#22C84A" stroke-width="2.25" fill="none" stroke-linejoin="round" stroke-linecap="round" clip-path="url(#cc)"/>
<path d="M73.7,603.4L73.5,604.6 73.5,605.8 73.6,607.0 74.0,608.2 74.4,609.3 75.0,610.4 75.6,611.5 76.3,612.4 77.2,613.3 78.1,614.1 79.1,614.7 80.3,615.1 81.5,615.1 82.6,614.6 83.5,613.8 84.2,612.8 84.8,611.8 85.4,610.7 86.0,609.6 86.5,608.5 87.0,607.4 87.5,606.3 88.1,605.3 88.6,604.2 89.2,603.1 89.8,602.0 90.4,601.0 91.0,599.9 91.6,598.8 92.2,597.8 92.8,596.8 93.5,595.7 94.1,594.7 94.8,593.7 95.5,592.7 96.1,591.7 96.8,590.7 97.6,589.7 98.3,588.7 99.0,587.7 99.8,586.8 100.5,585.8 101.3,584.9 102.1,584.0 102.9,583.1 103.7,582.2 104.5,581.3 105.4,580.4 106.2,579.5 107.1,578.7 107.9,577.8 108.8,577.0 109.7,576.1 110.6,575.3 111.5,574.5 112.5,573.8 113.4,573.0 114.4,572.2 115.3,571.5 116.3,570.7 117.3,570.0 118.3,569.3 119.3,568.6 120.3,567.9 121.3,567.3 122.3,566.6 123.3,566.0 124.4,565.4 125.4,564.8 126.5,564.2 127.6,563.6 128.7,563.0 129.7,562.5 130.8,561.9 131.9,561.4 133.0,560.9 134.2,560.4 135.3,560.0 136.4,559.5 137.6,559.1 138.7,558.7 139.9,558.3 141.0,558.0 142.2,557.6 143.4,557.3 144.5,557.0 145.7,556.7 146.9,556.5 148.1,556.3 149.3,556.1 150.5,555.9 151.7,555.8 152.9,555.7 154.1,555.6 155.4,555.5 156.6,555.5 157.8,555.5 159.0,555.5 160.2,555.6 161.4,555.7 162.6,555.8 163.8,556.0 165.0,556.2 166.2,556.4 167.4,556.6 168.6,556.8 169.8,557.1 171.0,557.3 172.2,557.6 173.4,557.9 174.6,558.1 175.8,558.4 176.9,558.7 178.1,558.9 179.3,559.2 180.5,559.7 181.7,559.4 182.9,559.8 184.1,560.4 185.3,560.2 186.5,560.3 L187.5,561.2 188.6,561.9 189.7,561.8 190.8,562.8 192.0,563.3 193.1,563.3 194.2,564.4 195.3,564.5 196.4,565.0 197.5,565.2 198.5,566.2 199.6,566.6 200.6,567.0 201.7,568.6 202.7,569.0 203.7,569.6 204.7,570.3 205.7,570.6 206.7,571.4 207.7,571.7 208.7,572.6 209.8,573.0 210.8,574.0 211.8,574.6 212.8,575.5 213.9,576.0 214.9,576.1 216.0,577.3 217.0,577.7 218.1,578.2 219.1,578.5 220.2,579.4 221.3,580.2 222.3,581.0 223.4,581.6 224.5,581.8 225.6,582.4 226.7,583.1 227.7,583.2 228.8,583.9 229.9,584.1 231.0,585.6 232.1,585.9 233.2,586.2 234.2,586.6 235.3,587.2 236.4,587.8 237.5,587.7 238.6,588.2 239.7,589.2 240.8,589.8 241.9,590.2 242.9,590.7 244.0,591.4 245.1,591.6 246.2,592.5 247.3,593.3 248.4,593.1 249.5,594.2 250.5,594.4 251.6,595.7 252.7,595.9 253.8,595.9 254.9,597.0 255.9,597.3 257.0,598.5 258.1,598.8 259.2,598.8 260.3,599.8 261.4,600.8 262.4,600.7 263.5,601.3 264.6,601.6 265.7,602.1 266.8,602.5 267.8,602.9 268.9,604.2 270.0,604.6 271.1,605.2 272.2,605.7 273.3,606.7 274.3,606.7 275.4,606.5 276.5,607.9 277.6,608.5 278.7,608.9 279.8,609.4 280.9,609.3 281.9,610.5 283.0,610.6 284.1,611.3 285.2,612.1 286.3,612.7 287.4,613.0 288.5,614.2 289.6,614.5 290.7,614.6 291.8,615.2 292.9,615.9 294.0,616.2 295.1,616.5 296.2,617.6 297.3,617.8 298.4,618.4 299.5,618.4 300.6,617.3 301.7,618.8 302.8,620.6 303.9,622.7 305.0,622.1 306.1,621.9 307.3,622.2 308.4,622.3 309.5,623.1 310.6,623.5 311.7,623.8 312.8,624.4 314.0,624.6 315.1,625.3 316.2,625.4 317.4,626.4 318.5,626.5 319.6,626.2 320.7,627.6 321.9,628.4 323.0,627.9 324.2,629.3 325.3,629.2 326.4,629.8 327.6,630.2 328.7,630.2 329.9,630.5 331.0,631.3 332.2,631.6 333.3,632.0" stroke="#000000" stroke-width="2.25" fill="none" stroke-linejoin="round" stroke-linecap="round" clip-path="url(#cc)"/>
<line x1="78.9" y1="386.1" x2="109.7" y2="386.1" stroke="#FF8C1A" stroke-width="2.5"/>
<text x="112.7" y="390.2" font-size="12.6" font-weight="bold">650°C</text>
<line x1="78.9" y1="402.9" x2="109.7" y2="402.9" stroke="#800080" stroke-width="2.5"/>
<text x="112.7" y="407.0" font-size="12.6" font-weight="bold">600°C</text>
<line x1="78.9" y1="419.4" x2="109.7" y2="419.4" stroke="#2F4FFF" stroke-width="2.5"/>
<text x="112.7" y="423.5" font-size="12.6" font-weight="bold">550°C</text>
<line x1="78.9" y1="435.7" x2="109.7" y2="435.7" stroke="#FF0000" stroke-width="2.5"/>
<text x="112.7" y="439.8" font-size="12.6" font-weight="bold">500°C</text>
<line x1="78.9" y1="451.9" x2="109.7" y2="451.9" stroke="#9C6428" stroke-width="2.5"/>
<text x="112.7" y="456.0" font-size="12.6" font-weight="bold">450°C</text>
<line x1="78.9" y1="468.3" x2="109.7" y2="468.3" stroke="#22C84A" stroke-width="2.5"/>
<text x="112.7" y="472.4" font-size="12.6" font-weight="bold">300°C</text>
<line x1="78.9" y1="484.4" x2="109.7" y2="484.4" stroke="#000000" stroke-width="2.5"/>
<text x="112.7" y="488.5" font-size="12.6" font-weight="bold">25°C</text>
<text x="203" y="399.4" font-size="21.5" font-weight="bold" text-anchor="middle">(c)</text>
<path d="M73.70,633.80V639.00M96.27,633.80V639.00M107.56,633.80V639.00M118.85,633.80V639.00M141.42,633.80V639.00M152.71,633.80V639.00M164.00,633.80V639.00M186.57,633.80V639.00M197.86,633.80V639.00M209.14,633.80V639.00M231.72,633.80V639.00M243.00,633.80V639.00M254.29,633.80V639.00M276.87,633.80V639.00M288.15,633.80V639.00M299.44,633.80V639.00M322.01,633.80V639.00M333.30,633.80V639.00M84.99,632.30V640.50M130.13,632.30V640.50M175.28,632.30V640.50M220.43,632.30V640.50M265.58,632.30V640.50M310.73,632.30V640.50M71.10,625.59H76.30M71.10,614.78H76.30M71.10,603.98H76.30M71.10,593.17H76.30M71.10,571.55H76.30M71.10,560.74H76.30M71.10,549.93H76.30M71.10,539.12H76.30M71.10,517.51H76.30M71.10,506.70H76.30M71.10,495.89H76.30M71.10,485.08H76.30M71.10,463.47H76.30M71.10,452.66H76.30M71.10,441.85H76.30M71.10,431.04H76.30M71.10,409.42H76.30M71.10,398.62H76.30M71.10,387.81H76.30M71.10,377.00H76.30M69.60,636.40H77.80M69.60,582.36H77.80M69.60,528.32H77.80M69.60,474.27H77.80M69.60,420.23H77.80" stroke="#000" stroke-width="1.8" fill="none"/>
<rect x="73.70" y="377.00" width="259.60" height="259.40" stroke="#000" stroke-width="2.1" fill="none"/>
<text x="73.31" y="655.00" font-size="14">400</text>
<text x="118.46" y="655.00" font-size="14">600</text>
<text x="163.60" y="655.00" font-size="14">800</text>
<text x="204.86" y="655.00" font-size="14"> 000</text>
<path transform="translate(204.86,655.00) scale(0.00684,-0.00654)" d="M763 0H583V1147Q518 1085 412.5 1023T223 930V1104Q373 1175 485.5 1276T645 1472H763V0Z" fill="#111" stroke="#111" stroke-width="0.25" vector-effect="non-scaling-stroke"/>
<text x="250.01" y="655.00" font-size="14"> 200</text>
<path transform="translate(250.01,655.00) scale(0.00684,-0.00654)" d="M763 0H583V1147Q518 1085 412.5 1023T223 930V1104Q373 1175 485.5 1276T645 1472H763V0Z" fill="#111" stroke="#111" stroke-width="0.25" vector-effect="non-scaling-stroke"/>
<text x="295.15" y="655.00" font-size="14"> 400</text>
<path transform="translate(295.15,655.00) scale(0.00684,-0.00654)" d="M763 0H583V1147Q518 1085 412.5 1023T223 930V1104Q373 1175 485.5 1276T645 1472H763V0Z" fill="#111" stroke="#111" stroke-width="0.25" vector-effect="non-scaling-stroke"/>
<text x="58.41" y="640.60" font-size="14">0</text>
<text x="46.74" y="586.56" font-size="14">0.5</text>
<text x="58.41" y="532.52" font-size="14"> </text>
<path transform="translate(58.41,532.52) scale(0.00684,-0.00654)" d="M763 0H583V1147Q518 1085 412.5 1023T223 930V1104Q373 1175 485.5 1276T645 1472H763V0Z" fill="#111" stroke="#111" stroke-width="0.25" vector-effect="non-scaling-stroke"/>
<text x="46.74" y="478.47" font-size="14"> .5</text>
<path transform="translate(46.74,478.47) scale(0.00684,-0.00654)" d="M763 0H583V1147Q518 1085 412.5 1023T223 930V1104Q373 1175 485.5 1276T645 1472H763V0Z" fill="#111" stroke="#111" stroke-width="0.25" vector-effect="non-scaling-stroke"/>
<text x="58.41" y="424.43" font-size="14">2</text>
<g transform="translate(33.8,557.5) rotate(-90)">
<text x="0" y="0" font-size="17" font-family="Liberation Serif" font-style="italic">α</text>
<text x="14.6" y="0" font-size="16.5">(</text>
<path transform="translate(21.0,-11.7)" d="M0.6,1.6 C0.9,0.4 2.4,-0.2 3.3,1.0 C3.9,2.0 4.4,4.5 5.0,7.0 C5.6,9.5 6.2,11.3 7.2,11.3 C7.9,11.3 8.3,10.8 8.6,10.2 M4.0,4.2 L0.5,11.6" stroke="#1a1a1a" stroke-width="1.3" fill="none" stroke-linecap="round"/>
<text x="30.6" y="0" font-size="16.5">)</text>
<text x="40.80" y="0.00" font-size="16.5">( 0</text>
<path transform="translate(46.29,0.00) scale(0.00806,-0.00771)" d="M763 0H583V1147Q518 1085 412.5 1023T223 930V1104Q373 1175 485.5 1276T645 1472H763V0Z" fill="#111" stroke="#111" stroke-width="0.25" vector-effect="non-scaling-stroke"/>
<text x="65.6" y="-6.6" font-size="11">5</text>
<text x="75.6" y="0" font-size="16.5">cm</text>
<text x="97.80" y="-6.60" font-size="11">- </text>
<path transform="translate(101.46,-6.60) scale(0.00537,-0.00514)" d="M763 0H583V1147Q518 1085 412.5 1023T223 930V1104Q373 1175 485.5 1276T645 1472H763V0Z" fill="#111" stroke="#111" stroke-width="0.25" vector-effect="non-scaling-stroke"/>
<text x="107.8" y="0" font-size="16.5">)</text>
</g>
<text x="123.0" y="677.0" font-size="17">Wavelenght,</text>
<path transform="translate(222.00,665.30)" d="M0.6,1.6 C0.9,0.4 2.4,-0.2 3.3,1.0 C3.9,2.0 4.4,4.5 5.0,7.0 C5.6,9.5 6.2,11.3 7.2,11.3 C7.9,11.3 8.3,10.8 8.6,10.2 M4.0,4.2 L0.5,11.6" stroke="#1a1a1a" stroke-width="1.35" fill="none" stroke-linecap="round"/>
<text x="235.9" y="677.0" font-size="17">(nm)</text>
<rect x="413.6" y="376.6" width="259.5" height="259.7" fill="url(#gd)"/>
<path d="M422.8,608.2L423.6,608.2 424.4,608.1 425.2,608.0 426.0,607.9 426.8,607.8 427.6,607.7 428.4,607.6 429.2,607.5 430.0,607.3 430.7,607.2 431.5,607.0 432.3,606.8 433.1,606.6 433.9,606.4 434.6,606.2 435.4,606.0 436.2,605.8 436.9,605.5 437.7,605.3 438.5,605.0 439.2,604.8 440.0,604.5 440.7,604.2 441.5,603.9 442.2,603.6 442.9,603.3 443.7,602.9 444.4,602.6 445.1,602.2 445.8,601.9 446.5,601.5 447.2,601.1 447.9,600.7 448.6,600.4 449.3,600.0 450.0,599.5 450.7,599.1 451.4,598.7 452.1,598.3 452.7,597.8 453.4,597.4 454.1,596.9 454.7,596.5 455.4,596.0 456.0,595.5 456.7,595.1 457.3,594.6 458.0,594.1 458.6,593.6 459.2,593.1 459.8,592.6 460.5,592.1 461.1,591.6 461.7,591.1 462.3,590.6 462.9,590.0 463.5,589.5 464.1,589.0 464.7,588.4 465.3,587.9 465.9,587.4 466.5,586.8 467.1,586.3 467.7,585.7 468.3,585.2 468.8,584.6 469.4,584.1 470.0,583.5 470.6,583.0 471.2,582.4 471.7,581.9 472.3,581.3 472.9,580.8 473.5,580.2 474.0,579.6 474.6,579.1 475.2,578.5 475.8,577.9 476.3,577.4 476.9,576.8 477.5,576.2 478.0,575.7 478.6,575.1 479.1,574.5 479.7,574.0 480.3,573.4 480.8,572.8 481.4,572.2 481.9,571.7 482.5,571.1 483.0,570.5 483.6,569.9 484.1,569.3 484.7,568.8 485.2,568.2 485.8,567.6 486.3,567.0 486.9,566.4 487.4,565.8 487.9,565.2 488.5,564.6 489.0,564.0 489.6,563.4 490.1,562.8 490.6,562.2 491.1,561.6 491.7,561.0 492.2,560.4 492.7,559.8 493.2,559.2 493.7,558.6 494.2,557.9 494.8,557.3 495.3,556.7 495.8,556.1 496.3,555.4 496.8,554.8 497.3,554.2 497.8,553.6 498.2,552.9 498.7,552.3 499.2,551.6 499.7,551.0 500.2,550.4 500.7,549.7 501.1,549.1 501.6,548.4 502.1,547.8 502.5,547.1 503.0,546.5 503.4,545.8 503.9,545.1 504.3,544.5 504.8,543.8 505.2,543.1 505.7,542.5 506.1,541.8 506.5,541.1 506.9,540.4 507.4,539.7 507.8,539.1 508.2,538.4 508.6,537.7 509.0,537.0 509.4,536.3 509.8,535.6 510.2,534.9 510.5,534.2 510.9,533.5 511.3,532.8 511.7,532.0 512.0,531.3 512.4,530.6 512.7,529.9 513.1,529.2 513.4,528.4 513.7,527.7 514.1,527.0 514.4,526.2 514.7,525.5 515.0,524.8 515.3,524.0 515.6,523.3 515.9,522.5 516.2,521.8 516.5,521.0 516.8,520.3 517.1,519.5 517.4,518.8 517.6,518.0 517.9,517.3 518.2,516.5 518.4,515.8 518.7,515.0 519.0,514.3 519.2,513.5 519.5,512.7 519.7,512.0 520.0,511.2 520.2,510.4 520.4,509.7 520.7,508.9 520.9,508.1 521.1,507.4 521.4,506.6 521.6,505.8 521.8,505.1 522.0,504.3 522.2,503.5 522.5,502.8 522.7,502.0 522.9,501.2 523.1,500.4 523.3,499.7 523.5,498.9 523.7,498.1 523.9,497.3 524.1,496.6 524.3,495.8 524.6,495.0 524.8,494.2 525.0,493.5 525.2,492.7 525.4,491.9 525.6,491.1 525.8,490.4 526.0,489.6 526.2,488.8 526.4,488.0 526.6,487.3 526.8,486.5 527.0,485.7 527.2,484.9 527.4,484.2 527.6,483.4 527.8,482.6 528.0,481.8 528.2,481.1 528.4,480.3 528.6,479.5 528.8,478.7 529.1,478.0 529.3,477.2 529.5,476.4 529.7,475.6 529.9,474.9 530.1,474.1 530.4,473.3 530.6,472.6 530.8,471.8 531.0,471.0 531.3,470.3 531.5,469.5 531.7,468.7 532.0,468.0 532.2,467.2 532.5,466.4 532.7,465.7 533.0,464.9 533.2,464.1 533.5,463.4 533.7,462.6 534.0,461.9 534.3,461.1 534.5,460.4 534.8,459.6 535.1,458.9 535.3,458.1 535.6,457.3 535.9,456.6 536.2,455.9 536.5,455.1 536.8,454.4 537.1,453.6 537.4,452.9 537.7,452.1 538.0,451.4 538.3,450.7 538.7,449.9 539.0,449.2 539.3,448.5 539.6,447.7 540.0,447.0 540.3,446.3 540.7,445.6 541.0,444.8 541.4,444.1 541.7,443.4 542.1,442.7 542.5,442.0 542.9,441.3 543.3,440.6 543.6,439.9 544.0,439.2 544.4,438.5 544.9,437.8 545.3,437.1 545.7,436.4 546.1,435.8 546.6,435.1 547.0,434.4 547.4,433.7 547.9,433.1 548.4,432.4 548.8,431.8 549.3,431.1 549.8,430.5 550.3,429.9 550.8,429.2 551.3,428.6 551.8,428.0 552.3,427.4 552.8,426.8 553.4,426.2 553.9,425.6 554.5,425.0 555.0,424.4 555.6,423.9 556.2,423.3 556.7,422.8 557.3,422.2 557.9,421.7 558.6,421.2 559.2,420.7 559.8,420.2 560.4,419.7 561.1,419.2 561.7,418.7 562.4,418.3 563.1,417.8 563.7,417.4 564.4,417.0 565.1,416.6 565.8,416.2 566.5,415.8 567.2,415.5 568.0,415.1 568.7,414.8 569.4,414.5 570.2,414.2 570.9,413.9 571.7,413.6 572.4,413.3 573.2,413.1 574.0,412.9 574.7,412.6 575.5,412.4 576.3,412.3 577.1,412.1 577.9,411.9 578.7,411.8 579.4,411.7 580.2,411.6 581.0,411.5 581.8,411.4 582.6,411.3 583.4,411.3 584.2,411.3 585.0,411.2 585.8,411.2 586.6,411.3 587.4,411.3 588.2,411.3 589.0,411.4 589.8,411.5 590.6,411.6 591.4,411.7 592.2,411.8 593.0,412.0 593.8,412.1 594.6,412.3 595.3,412.5 596.1,412.8 596.9,413.0 597.6,413.3 598.4,413.6 599.1,413.9 599.8,414.2 600.6,414.6 601.3,414.9 602.0,415.3 602.7,415.7 603.3,416.2 604.0,416.6 604.6,417.1 605.3,417.6 605.9,418.1 606.5,418.7 607.0,419.2 607.6,419.8 608.2,420.4 608.7,421.0 609.2,421.6 609.7,422.2 610.2,422.9 610.7,423.5 611.1,424.2 611.6,424.8 612.0,425.5 612.5,426.2 612.9,426.8 613.3,427.5 613.7,428.2 614.1,428.9 614.5,429.6 614.8,430.3 615.2,431.1 615.6,431.8 615.9,432.5 616.3,433.2 616.6,433.9 617.0,434.7 617.3,435.4 617.6,436.1 617.9,436.9 618.3,437.6 618.6,438.3 618.9,439.1 619.2,439.8 619.5,440.5 619.8,441.3 620.2,442.0 620.5,442.8 620.8,443.5 621.1,444.2 621.4,445.0 621.7,445.7 622.0,446.5 622.3,447.2 622.6,448.0 622.8,448.7 623.1,449.5 623.4,450.2 623.7,451.0 624.0,451.7 624.3,452.4 624.6,453.2 624.9,453.9 625.1,454.7 625.4,455.4 625.7,456.2 626.0,456.9 626.3,457.7 626.6,458.4 626.8,459.2 627.1,459.9 627.4,460.7 627.7,461.4 628.0,462.2 628.3,462.9 628.5,463.7 628.8,464.4 629.1,465.2 629.4,465.9 629.7,466.7 630.0,467.4 630.2,468.2 630.5,468.9 630.8,469.7 631.1,470.4 631.4,471.2 631.7,471.9 632.0,472.7 632.3,473.4 632.6,474.2 632.8,474.9 633.1,475.7 633.4,476.4 633.7,477.2 634.0,477.9 634.3,478.7 634.6,479.4 634.9,480.2 635.2,480.9 635.4,481.7 635.7,482.4 636.0,483.2 636.3,483.9 636.6,484.7 636.9,485.4 637.2,486.1 637.4,486.9 637.7,487.6 638.0,488.4 638.3,489.2 638.6,489.9 638.8,490.7 639.1,491.4 639.4,492.2 639.7,492.9 640.0,493.7 640.2,494.4 640.5,495.2 640.8,495.9 641.0,496.7 641.3,497.4 641.6,498.2 641.9,498.9 642.1,499.7 642.4,500.5 642.6,501.2 642.9,502.0 643.2,502.7 643.4,503.5 643.7,504.3 643.9,505.0 644.2,505.8 644.4,506.5 644.7,507.3 644.9,508.1 645.2,508.8 645.4,509.6 645.6,510.4 645.9,511.1 646.1,511.9 646.3,512.7 646.6,513.4 646.8,514.2 647.0,515.0 647.2,515.7 647.5,516.5 647.7,517.3 647.9,518.1 648.1,518.8 648.3,519.6 648.5,520.4 648.7,521.2 648.9,521.9 649.1,522.7 649.3,523.5 649.5,524.3 649.7,525.0 649.9,525.8 650.0,526.6 650.2,527.4 650.4,528.2 650.6,529.0 650.7,529.7 650.9,530.5 651.0,531.3 651.2,532.1 651.4,532.9 651.5,533.7 651.6,534.5 651.8,535.2 651.9,536.0 652.1,536.8 652.2,537.6 652.3,538.4 652.4,539.2 652.6,540.0 652.7,540.8 652.8,541.6 652.9,542.4 653.0,543.2 653.1,544.0 653.2,544.8 653.3,545.6 653.3,546.4 653.4,547.2 653.5,548.0 653.6,548.8 653.6,549.6 653.7,550.4 653.8,551.2 653.8,552.0 653.9,552.8 653.9,553.6 654.0,554.4 654.0,555.2 654.0,556.0 654.0,556.8 654.1,557.6 654.1,558.4 654.1,559.2 654.1,560.0 654.1,560.8 654.1,561.6" stroke="#FF0000" stroke-width="2.6" fill="none" stroke-dasharray="15.6 14.6" stroke-dashoffset="-0.2"/>
<circle cx="422.87" cy="608.47" r="7.3" fill="url(#sph)"/>
<path d="M524.81,488.46V505.89M518.51,488.46H531.11M518.51,505.89H531.11" stroke="#FF0000" stroke-width="1.6" fill="none"/>
<circle cx="524.81" cy="497.17" r="7.3" fill="url(#sph)"/>
<path d="M580.42,400.16V423.53M574.12,400.16H586.72M574.12,423.53H586.72" stroke="#FF0000" stroke-width="1.6" fill="none"/>
<circle cx="580.42" cy="411.84" r="7.3" fill="url(#sph)"/>
<path d="M598.96,401.64V425.76M592.66,401.64H605.26M592.66,425.76H605.26" stroke="#FF0000" stroke-width="1.6" fill="none"/>
<circle cx="598.96" cy="413.70" r="7.3" fill="url(#sph)"/>
<path d="M617.49,435.59V456.74M611.19,435.59H623.79M611.19,456.74H623.79" stroke="#FF0000" stroke-width="1.6" fill="none"/>
<circle cx="617.49" cy="446.16" r="7.3" fill="url(#sph)"/>
<path d="M636.03,448.57V468.61M629.73,448.57H642.33M629.73,468.61H642.33" stroke="#FF0000" stroke-width="1.6" fill="none"/>
<circle cx="636.03" cy="458.59" r="7.3" fill="url(#sph)"/>
<path d="M654.56,555.24V567.11M648.26,555.24H660.86M648.26,567.11H660.86" stroke="#FF0000" stroke-width="1.6" fill="none"/>
<circle cx="654.56" cy="561.17" r="7.3" fill="url(#sph)"/>
<text x="544.1" y="399.4" font-size="21.5" font-weight="bold" text-anchor="middle">(d)</text>
<path d="M432.14,633.70V638.90M469.21,633.70V638.90M506.28,633.70V638.90M543.35,633.70V638.90M580.42,633.70V638.90M617.49,633.70V638.90M654.56,633.70V638.90M413.60,632.20V640.40M450.67,632.20V640.40M487.74,632.20V640.40M524.81,632.20V640.40M561.89,632.20V640.40M598.96,632.20V640.40M636.03,632.20V640.40M673.10,632.20V640.40M411.00,617.75H416.20M411.00,580.65H416.20M411.00,543.55H416.20M411.00,506.45H416.20M411.00,469.35H416.20M411.00,432.25H416.20M411.00,395.15H416.20M409.50,636.30H417.70M409.50,599.20H417.70M409.50,562.10H417.70M409.50,525.00H417.70M409.50,487.90H417.70M409.50,450.80H417.70M409.50,413.70H417.70M409.50,376.60H417.70" stroke="#000" stroke-width="1.8" fill="none"/>
<rect x="413.60" y="376.60" width="259.50" height="259.70" stroke="#000" stroke-width="2.1" fill="none"/>
<text x="409.76" y="654.90" font-size="13.8">0</text>
<text x="439.16" y="654.90" font-size="13.8"> 00</text>
<path transform="translate(439.16,654.90) scale(0.00674,-0.00645)" d="M763 0H583V1147Q518 1085 412.5 1023T223 930V1104Q373 1175 485.5 1276T645 1472H763V0Z" fill="#111" stroke="#111" stroke-width="0.25" vector-effect="non-scaling-stroke"/>
<text x="476.23" y="654.90" font-size="13.8">200</text>
<text x="513.30" y="654.90" font-size="13.8">300</text>
<text x="550.37" y="654.90" font-size="13.8">400</text>
<text x="587.44" y="654.90" font-size="13.8">500</text>
<text x="624.52" y="654.90" font-size="13.8">600</text>
<text x="661.59" y="654.90" font-size="13.8">700</text>
<text x="398.43" y="640.60" font-size="13.8">4</text>
<text x="398.43" y="603.50" font-size="13.8">6</text>
<text x="398.43" y="566.40" font-size="13.8">8</text>
<text x="390.75" y="529.30" font-size="13.8"> 0</text>
<path transform="translate(390.75,529.30) scale(0.00674,-0.00645)" d="M763 0H583V1147Q518 1085 412.5 1023T223 930V1104Q373 1175 485.5 1276T645 1472H763V0Z" fill="#111" stroke="#111" stroke-width="0.25" vector-effect="non-scaling-stroke"/>
<text x="390.75" y="492.20" font-size="13.8"> 2</text>
<path transform="translate(390.75,492.20) scale(0.00674,-0.00645)" d="M763 0H583V1147Q518 1085 412.5 1023T223 930V1104Q373 1175 485.5 1276T645 1472H763V0Z" fill="#111" stroke="#111" stroke-width="0.25" vector-effect="non-scaling-stroke"/>
<text x="390.75" y="455.10" font-size="13.8"> 4</text>
<path transform="translate(390.75,455.10) scale(0.00674,-0.00645)" d="M763 0H583V1147Q518 1085 412.5 1023T223 930V1104Q373 1175 485.5 1276T645 1472H763V0Z" fill="#111" stroke="#111" stroke-width="0.25" vector-effect="non-scaling-stroke"/>
<text x="390.75" y="418.00" font-size="13.8"> 6</text>
<path transform="translate(390.75,418.00) scale(0.00674,-0.00645)" d="M763 0H583V1147Q518 1085 412.5 1023T223 930V1104Q373 1175 485.5 1276T645 1472H763V0Z" fill="#111" stroke="#111" stroke-width="0.25" vector-effect="non-scaling-stroke"/>
<text x="390.75" y="380.90" font-size="13.8"> 8</text>
<path transform="translate(390.75,380.90) scale(0.00674,-0.00645)" d="M763 0H583V1147Q518 1085 412.5 1023T223 930V1104Q373 1175 485.5 1276T645 1472H763V0Z" fill="#111" stroke="#111" stroke-width="0.25" vector-effect="non-scaling-stroke"/>
<g transform="translate(379.9,553.0) rotate(-90)">
<text x="-1.8" y="0" font-size="19">I</text>
<text x="8.8" y="5.6" font-size="13" font-style="italic">Abs</text>
<text x="38.6" y="0" font-size="19">(A. U.)</text>
</g>
<text x="515.5" y="682.6" font-size="19" font-style="italic">T</text>
<text x="526.3" y="687.8" font-size="13" font-style="italic">s</text>
<text x="537.6" y="683.0" font-size="19.8">(°C)</text>
</svg></body></html>
